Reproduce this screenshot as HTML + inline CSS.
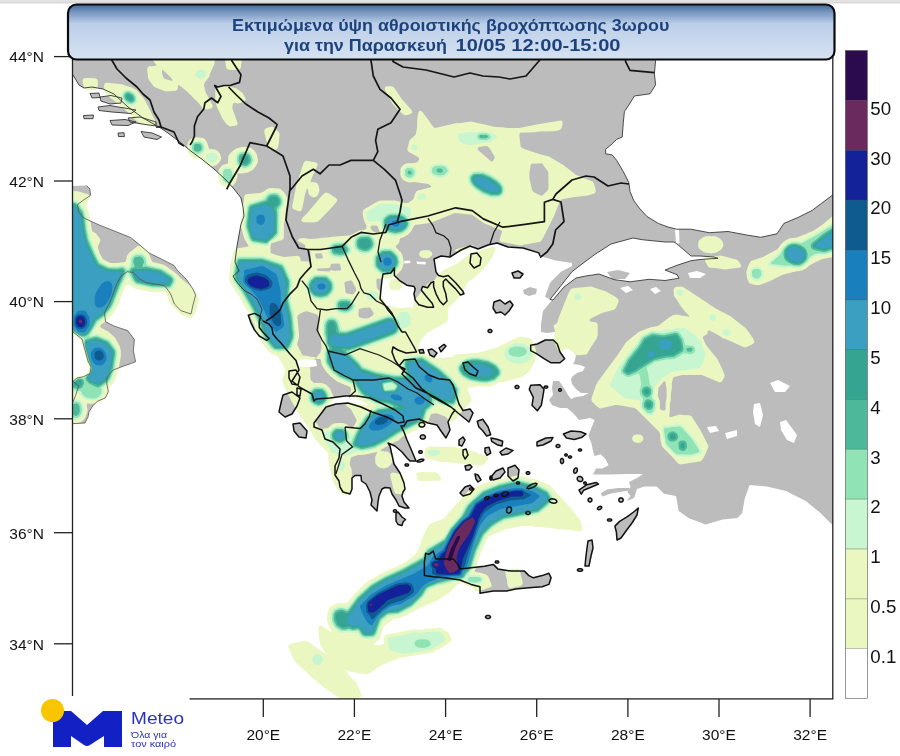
<!DOCTYPE html><html><head><meta charset="utf-8"><style>html,body{margin:0;padding:0;background:#fff;}svg{display:block}</style></head><body>
<svg width="900" height="756" viewBox="0 0 900 756" font-family="Liberation Sans, sans-serif">
<defs><linearGradient id="tg" x1="0" y1="0" x2="0" y2="1"><stop offset="0" stop-color="#3f6799"/><stop offset="0.12" stop-color="#6f8fbb"/><stop offset="0.35" stop-color="#bccfe9"/><stop offset="1" stop-color="#d6e2f1"/></linearGradient>
<clipPath id="mc"><rect x="72.5" y="57" width="760.3" height="641.9"/></clipPath></defs>
<rect width="900" height="756" fill="#fff"/>
<rect width="900" height="2.5" fill="#e2e2e2"/><rect y="2.2" width="900" height="1.2" fill="#d3d3d3"/>
<g clip-path="url(#mc)">
<path d="M72.0 50.0 L656.0 50.0 L655.6 60.4 L654.4 73.8 L655.6 84.9 L650.0 93.8 L634.4 96.0 L628.9 104.9 L624.4 111.6 L623.3 122.7 L622.2 137.1 L616.7 139.3 L612.2 143.8 L605.6 149.3 L605.6 153.8 L612.2 154.9 L616.7 160.4 L623.3 171.6 L628.9 182.7 L630.0 191.6 L634.0 201.0 L640.0 209.0 L647.0 216.5 L658.5 223.5 L668.0 227.0 L676.7 229.2 L690.7 229.2 L709.3 232.7 L728.0 231.5 L746.7 235.0 L760.7 237.3 L777.0 233.8 L784.0 223.3 L798.0 217.5 L812.0 210.5 L821.3 203.5 L834.0 194.0 L840.0 194.0 L840.0 528.0 L833.0 525.6 L820.5 513.0 L805.8 501.0 L786.0 491.0 L766.7 486.5 L749.6 485.0 L744.7 498.7 L742.2 513.0 L737.4 518.0 L722.7 519.5 L705.6 524.4 L688.5 518.0 L678.7 511.0 L676.0 496.0 L664.0 493.8 L656.7 486.5 L644.4 486.5 L637.0 489.0 L634.0 498.0 L627.0 501.0 L630.5 496.0 L627.4 492.0 L630.5 487.0 L629.0 482.0 L637.0 478.0 L643.0 474.0 L626.0 474.0 L610.0 474.6 L599.0 474.6 L593.0 474.6 L596.0 468.4 L602.4 468.4 L608.6 465.2 L605.5 459.0 L600.8 454.3 L594.6 456.0 L593.0 451.0 L591.5 443.4 L588.4 435.6 L591.5 427.8 L594.6 420.0 L590.0 418.0 L579.0 420.0 L573.0 413.0 L567.0 408.0 L560.0 408.0 L552.0 405.0 L549.0 400.0 L553.0 395.0 L552.0 388.0 L553.0 381.0 L559.0 381.0 L564.0 388.0 L568.0 395.0 L571.0 399.0 L576.0 397.0 L583.0 396.0 L589.0 393.0 L581.0 393.0 L576.0 389.0 L572.0 384.0 L571.0 379.0 L573.0 376.0 L577.0 373.0 L583.0 371.0 L585.0 367.0 L580.0 365.0 L573.0 364.0 L575.0 360.0 L576.0 355.0 L571.0 349.0 L566.0 344.0 L572.0 340.0 L577.0 333.0 L580.0 328.0 L573.0 327.0 L564.0 329.0 L555.0 332.0 L547.0 333.0 L541.0 332.0 L541.0 324.0 L543.0 311.0 L552.0 300.0 L549.0 299.0 L545.0 296.7 L550.0 282.8 L561.0 271.7 L572.0 266.0 L572.0 263.0 L555.6 260.6 L540.0 256.0 L538.9 252.9 L523.0 248.0 L508.0 247.0 L497.0 243.0 L488.0 245.0 L478.0 249.0 L470.0 246.0 L461.0 250.0 L450.0 257.0 L441.0 256.0 L434.0 259.0 L436.0 271.8 L438.5 275.5 L443.3 276.7 L448.2 275.5 L455.6 282.8 L462.9 291.3 L464.0 293.8 L460.5 295.0 L455.6 288.9 L448.2 281.6 L445.8 279.0 L443.3 281.6 L443.3 286.5 L445.8 293.8 L447.0 301.0 L443.3 304.8 L439.7 301.0 L436.0 293.8 L433.6 286.5 L433.6 281.6 L431.0 282.8 L427.5 287.7 L422.6 286.5 L421.3 290.0 L426.2 296.2 L432.3 303.6 L433.6 307.2 L427.5 307.2 L418.9 304.8 L415.2 300.0 L414.0 293.8 L415.2 288.9 L414.0 286.5 L406.7 285.2 L399.3 280.3 L394.4 275.5 L394.4 268.0 L390.8 273.0 L383.0 274.0 L382.0 280.0 L381.0 289.0 L380.0 299.0 L385.0 305.0 L388.0 310.0 L394.0 317.0 L398.0 326.0 L402.0 332.0 L405.5 332.0 L410.0 340.0 L414.0 347.0 L416.5 352.0 L406.0 353.0 L398.0 350.0 L393.0 347.0 L392.0 352.0 L395.0 360.0 L399.0 366.0 L405.0 369.0 L402.0 374.0 L409.0 381.0 L416.0 388.0 L427.0 393.0 L438.0 399.0 L448.0 405.0 L455.0 410.0 L452.0 414.0 L448.0 422.0 L450.0 430.0 L446.0 438.0 L441.0 431.0 L437.0 425.0 L428.0 423.0 L419.0 419.0 L412.0 420.0 L407.0 421.0 L404.0 426.0 L401.0 426.0 L404.0 432.0 L407.0 440.0 L411.0 449.0 L416.0 461.0 L410.0 461.0 L407.0 458.0 L402.0 452.0 L395.0 446.0 L388.0 443.0 L390.0 446.0 L392.0 455.0 L394.0 464.0 L398.0 470.0 L400.0 473.0 L404.0 483.0 L405.0 489.0 L403.0 492.0 L402.0 496.0 L404.0 502.0 L409.0 508.0 L405.0 508.0 L399.0 506.0 L396.0 500.0 L392.0 494.0 L390.0 488.0 L385.0 487.5 L382.0 489.0 L379.0 496.0 L378.0 502.0 L377.0 511.0 L371.0 505.0 L372.0 500.0 L370.0 492.0 L366.0 484.0 L361.5 481.0 L361.0 475.5 L355.0 475.5 L352.0 478.0 L352.0 489.0 L350.0 494.0 L343.0 492.0 L340.0 487.0 L339.0 481.0 L335.0 475.0 L335.0 466.0 L339.0 458.0 L340.0 449.0 L333.0 442.0 L325.0 439.0 L322.0 430.0 L314.0 427.0 L314.0 423.0 L326.0 407.0 L336.0 404.0 L348.0 403.0 L361.0 407.0 L372.0 412.0 L387.0 417.0 L398.0 423.0 L404.0 422.0 L403.0 416.0 L395.0 410.0 L383.0 404.0 L370.0 398.0 L357.0 396.0 L345.0 396.0 L330.0 398.0 L316.0 399.0 L314.0 401.0 L312.0 394.0 L301.0 388.0 L292.0 381.0 L299.0 370.0 L296.0 360.5 L290.0 354.0 L285.0 348.0 L281.0 343.0 L277.0 339.0 L273.0 334.0 L272.0 328.0 L269.0 324.0 L263.0 321.0 L260.0 316.0 L262.0 310.0 L261.0 307.0 L257.0 299.0 L251.0 294.0 L245.0 291.0 L240.0 286.0 L236.0 281.0 L233.0 276.0 L239.0 271.0 L235.0 262.0 L237.0 246.0 L239.0 235.0 L241.0 224.0 L244.0 216.0 L243.0 207.0 L241.0 198.0 L234.0 189.0 L226.0 180.0 L214.0 169.0 L203.0 160.0 L192.0 152.0 L181.0 143.0 L168.0 133.0 L159.0 127.0 L143.0 118.0 L128.0 107.0 L114.0 94.0 L103.0 89.0 L92.0 87.0 L84.0 88.0 L79.0 85.0 L73.0 75.0 L66.0 75.0 L66.0 50.0 Z M66.0 186.0 L86.7 185.6 L89.8 189.0 L90.6 195.3 L83.6 200.0 L77.4 204.6 L78.9 212.4 L83.6 217.9 L99.2 225.0 L114.8 231.2 L130.4 237.4 L138.2 243.6 L149.1 253.0 L161.6 259.2 L174.1 265.5 L177.2 270.2 L186.6 279.5 L192.8 288.9 L195.6 295.1 L193.0 305.0 L191.0 314.0 L181.1 310.7 L174.4 304.0 L171.1 295.1 L169.4 292.0 L164.7 285.8 L155.4 284.2 L146.0 282.6 L138.2 278.0 L133.5 272.5 L127.3 271.7 L121.0 276.0 L116.7 284.0 L110.0 301.8 L104.4 312.9 L105.6 321.8 L114.4 326.2 L127.8 330.7 L134.4 339.6 L133.3 350.7 L135.6 361.8 L123.3 366.2 L113.0 370.0 L106.8 377.8 L106.8 384.0 L108.4 391.8 L105.2 398.0 L97.4 401.2 L92.8 405.9 L88.9 412.0 L88.1 416.8 L85.0 423.0 L66.0 424.0 L66.0 402.0 L73.0 402.0 L75.5 395.7 L78.7 386.0 L73.0 381.4 L77.0 378.0 L83.5 376.7 L90.0 373.5 L91.0 367.0 L88.0 361.0 L85.0 350.0 L82.0 339.0 L73.0 332.0 L66.0 332.0 Z" fill="#bcbcbc"/>
<path d="M578.0 267.0 L594.0 255.0 L611.0 244.0 L633.0 238.0 L642.0 239.7 L653.0 240.8 L665.0 242.0 L674.0 242.0 L677.0 244.0 L691.0 256.0 L700.0 256.0 L714.0 257.0 L718.0 258.3 L700.0 259.5 L691.0 260.7 L677.0 265.3 L665.0 270.0 L677.0 274.7 L679.0 278.2 L665.0 280.5 L649.0 279.3 L630.0 281.8 L614.0 279.6 L599.0 274.0 L586.0 276.0 L576.0 278.0 L564.0 287.0 L553.0 300.0 L550.0 299.4 L561.0 285.6 L572.0 271.7 Z M675.0 229.0 L679.0 229.0 L679.5 243.0 L676.0 244.0 Z M296.0 360.0 L305.0 358.0 L316.0 360.0 L317.0 366.0 L306.0 368.0 L298.0 367.0 Z M688.0 273.0 L697.0 271.0 L706.0 274.0 L700.0 278.0 L690.0 278.0 Z M404.0 261.0 L410.0 260.5 L410.5 263.0 L404.5 263.5 Z M416.5 261.5 L426.0 262.0 L425.5 264.5 L417.0 264.0 Z M770.0 383.0 L778.0 380.0 L790.0 386.0 L785.0 392.0 L775.0 392.0 Z M754.0 404.0 L760.0 403.0 L763.0 415.0 L760.0 427.0 L755.0 424.0 L753.0 412.0 Z M780.0 422.0 L786.0 420.0 L797.0 435.0 L794.0 443.0 L787.0 440.0 L781.0 430.0 Z M707.0 427.0 L716.0 426.0 L719.0 431.0 L710.0 433.0 Z M725.0 433.0 L737.0 430.0 L737.0 436.0 L727.0 439.0 Z M620.0 288.0 L628.0 286.0 L633.0 290.0 L626.0 293.0 Z M650.0 289.0 L656.0 287.0 L661.0 291.0 L655.0 294.0 Z" fill="#fff"/>
<path d="M399.0 366.0 L404.0 360.0 L415.0 359.0 L419.0 366.5 L429.0 375.0 L438.5 378.7 L449.5 379.9 L453.0 385.0 L455.6 393.3 L459.0 404.0 L463.0 410.5 L470.0 409.0 L473.0 413.0 L469.0 422.0 L458.0 413.0 L451.0 407.0 L442.0 402.0 L431.0 396.0 L421.0 388.0 L413.0 378.0 L405.0 372.0 Z M248.3 315.2 L254.4 313.4 L260.6 316.5 L259.3 321.3 L259.3 327.5 L263.0 332.3 L269.1 338.5 L266.7 340.3 L259.3 336.0 L254.4 329.9 L250.8 322.6 Z M289.0 371.0 L296.0 370.0 L300.0 377.0 L298.0 385.0 L292.0 384.0 L289.0 378.0 Z M283.0 395.0 L292.0 392.0 L300.0 398.0 L297.0 406.0 L292.0 414.0 L285.0 417.0 L279.0 412.0 L281.0 403.0 Z M297.0 388.0 L301.0 389.0 L300.0 396.0 L297.0 395.0 Z M293.0 424.0 L300.0 423.0 L307.0 431.0 L306.0 438.0 L299.0 437.0 L294.0 431.0 Z M396.0 513.0 L398.0 512.0 L402.0 517.0 L405.5 519.5 L403.0 522.0 L402.0 525.5 L398.0 524.5 L396.0 521.0 Z M471.0 254.0 L477.0 253.0 L481.0 258.0 L480.0 265.0 L474.0 268.0 L470.0 263.0 Z M512.0 273.0 L518.0 271.0 L523.0 274.0 L520.0 278.0 L514.0 278.0 Z M523.0 290.0 L530.0 287.0 L537.0 289.0 L536.0 294.0 L529.0 296.0 L524.0 294.0 Z M494.0 302.0 L500.0 300.0 L505.0 304.0 L510.0 301.0 L513.0 305.0 L509.0 311.0 L505.0 315.0 L501.0 312.0 L496.0 313.0 L493.0 308.0 Z M530.7 345.3 L537.3 344.0 L545.3 340.0 L553.3 340.0 L557.3 344.0 L560.0 352.0 L564.7 358.7 L560.0 362.7 L550.7 362.7 L544.0 358.7 L536.0 353.3 L530.7 350.7 Z M530.7 385.3 L540.0 384.7 L544.0 389.3 L542.7 397.3 L541.3 405.3 L537.3 410.7 L532.0 405.3 L533.3 397.3 L529.3 389.3 Z M563.4 434.0 L571.2 431.0 L580.6 431.7 L586.0 434.0 L582.1 437.2 L574.3 439.5 L566.5 438.0 Z M537.0 442.0 L546.0 438.0 L553.0 437.5 L551.0 441.0 L543.0 445.0 L537.0 446.0 Z M463.0 363.0 L468.0 362.0 L473.0 367.0 L478.0 371.0 L476.0 376.0 L470.0 374.0 L465.0 370.0 Z M419.0 350.0 L423.0 349.5 L424.0 353.0 L420.0 353.0 Z M428.0 350.0 L432.0 349.0 L437.0 353.0 L434.0 357.0 L430.0 355.0 Z M439.0 348.0 L444.0 344.4 L446.0 346.0 L441.0 351.8 Z M477.3 421.3 L482.7 419.3 L488.0 426.7 L490.7 434.7 L486.7 436.0 L482.7 430.7 L478.7 426.7 Z M491.0 438.0 L497.0 439.3 L502.7 441.3 L502.0 446.0 L497.0 444.7 L491.7 441.3 Z M459.0 440.0 L463.0 437.0 L465.0 440.0 L462.0 446.0 L459.0 445.0 Z M463.0 450.0 L466.0 449.0 L468.0 455.0 L465.0 459.0 L463.0 455.0 Z M485.0 448.0 L489.0 447.3 L490.7 453.0 L487.0 455.3 L485.0 452.0 Z M500.0 452.0 L506.0 448.0 L513.0 450.5 L508.0 454.0 L502.0 455.0 Z M465.0 466.0 L470.0 464.7 L472.0 467.0 L469.0 470.0 L466.0 470.0 Z M475.0 474.0 L478.0 475.0 L481.0 480.0 L478.0 482.0 L476.0 479.0 Z M490.0 478.0 L496.0 471.0 L503.0 468.0 L505.0 472.0 L500.0 478.0 L493.0 480.0 Z M508.0 468.0 L515.0 465.3 L519.0 470.0 L518.0 478.0 L513.0 481.0 L508.0 476.0 Z M460.0 493.0 L465.0 487.0 L470.0 485.3 L474.0 489.0 L470.0 494.0 L463.0 496.0 Z M579.0 490.2 L586.8 484.7 L596.2 482.4 L598.5 484.0 L591.5 487.0 L583.7 490.2 L581.3 494.1 Z M600.8 493.3 L607.1 489.4 L618.0 487.9 L628.9 487.9 L630.5 490.2 L621.1 491.8 L611.8 493.3 L602.4 496.4 Z M638.3 508.1 L633.6 512.0 L627.4 516.7 L619.6 521.4 L614.9 526.1 L616.4 532.3 L617.0 540.0 L621.0 538.0 L626.0 531.0 L632.0 523.0 L637.0 515.0 Z M588.0 541.0 L592.0 540.0 L593.0 548.0 L591.0 556.0 L589.0 566.0 L585.0 566.0 L586.0 556.0 L587.0 548.0 Z M424.4 562.2 L425.6 553.3 L428.9 554.4 L433.3 551.1 L435.6 558.9 L444.4 558.9 L453.3 558.9 L457.8 564.4 L460.0 568.9 L471.1 567.8 L484.4 566.2 L493.3 564.4 L497.8 568.9 L511.1 571.1 L524.4 571.1 L528.9 575.6 L533.3 577.8 L542.2 575.6 L548.9 573.3 L551.1 577.8 L548.9 584.4 L542.2 586.7 L528.9 587.8 L515.6 588.9 L506.7 591.1 L493.3 591.1 L480.0 593.3 L480.0 586.7 L471.1 584.4 L460.0 580.0 L444.4 577.8 L433.3 576.7 L424.4 575.6 Z M100.0 97.0 L111.0 95.5 L122.0 98.0 L121.0 103.0 L110.0 104.0 L101.0 101.0 Z M98.0 107.0 L110.0 105.5 L136.0 110.0 L131.0 113.5 L112.0 112.0 L99.0 110.5 Z M83.5 115.5 L93.5 115.0 L93.0 118.7 L84.0 118.7 Z M110.0 120.5 L125.0 119.5 L136.0 122.0 L128.0 125.5 L112.0 125.0 Z M141.0 131.5 L152.0 133.0 L161.5 137.0 L157.0 139.5 L144.0 137.0 Z M90.0 93.5 L99.0 93.0 L100.0 97.5 L92.0 98.0 Z M607.0 272.0 L618.0 270.0 L630.0 273.0 L625.0 279.0 L612.0 279.0 Z M118.0 133.0 L124.0 132.7 L124.4 136.6 L118.5 136.5 Z M128.0 118.0 L140.0 117.0 L156.0 122.0 L156.0 126.0 L142.0 124.0 L130.0 122.0 Z M508.3 492.8 L508.1 494.2 L506.7 495.6 L504.7 496.3 L502.8 496.2 L501.7 495.2 L501.9 493.8 L503.3 492.4 L505.3 491.7 L507.2 491.8 Z M511.3 510.9 L510.3 512.5 L508.7 513.1 L507.2 512.6 L506.5 511.1 L506.7 509.1 L507.7 507.5 L509.3 506.9 L510.8 507.4 L511.5 508.9 Z M537.0 483.7 L536.4 485.0 L534.2 486.7 L531.1 488.1 L528.4 488.7 L527.0 488.3 L527.6 487.0 L529.8 485.3 L532.9 483.9 L535.6 483.3 Z M530.2 513.0 L529.8 513.9 L528.7 514.4 L527.3 514.4 L526.2 513.9 L525.8 513.0 L526.2 512.1 L527.3 511.6 L528.7 511.6 L529.8 512.1 Z M489.3 497.1 L489.1 498.0 L488.1 498.8 L486.7 499.3 L485.3 499.4 L484.7 498.9 L484.9 498.0 L485.9 497.2 L487.3 496.7 L488.7 496.6 Z M498.0 495.5 L497.6 496.2 L496.6 496.6 L495.4 496.6 L494.4 496.2 L494.0 495.5 L494.4 494.8 L495.4 494.4 L496.6 494.4 L497.6 494.8 Z M529.8 473.0 L529.5 473.8 L528.6 474.2 L527.4 474.2 L526.5 473.8 L526.2 473.0 L526.5 472.2 L527.4 471.8 L528.6 471.8 L529.5 472.2 Z M556.9 501.7 L556.0 502.8 L553.9 503.3 L551.4 502.8 L549.6 501.7 L549.1 500.3 L550.0 499.2 L552.1 498.7 L554.6 499.2 L556.4 500.3 Z M563.6 461.0 L563.3 462.5 L562.5 463.5 L561.5 463.5 L560.7 462.5 L560.4 461.0 L560.7 459.5 L561.5 458.5 L562.5 458.5 L563.3 459.5 Z M577.2 471.2 L576.3 472.6 L575.1 473.3 L574.1 472.9 L573.6 471.6 L573.8 470.0 L574.7 468.6 L575.9 467.9 L576.9 468.3 L577.4 469.6 Z M582.6 480.5 L581.4 481.5 L579.6 481.5 L578.0 480.6 L577.2 479.1 L577.4 477.5 L578.6 476.5 L580.4 476.5 L582.0 477.4 L582.8 478.9 Z M592.0 500.0 L591.6 501.2 L590.6 501.9 L589.4 501.9 L588.4 501.2 L588.0 500.0 L588.4 498.8 L589.4 498.1 L590.6 498.1 L591.6 498.8 Z M601.7 506.8 L601.7 507.7 L600.9 508.8 L599.6 509.5 L598.3 509.7 L597.5 509.2 L597.5 508.3 L598.3 507.2 L599.6 506.5 L600.9 506.3 Z M623.2 500.0 L622.8 501.3 L621.7 502.1 L620.3 502.1 L619.2 501.3 L618.8 500.0 L619.2 498.7 L620.3 497.9 L621.7 497.9 L622.8 498.7 Z M611.8 520.0 L611.4 520.7 L610.3 521.1 L608.9 521.1 L607.8 520.7 L607.4 520.0 L607.8 519.3 L608.9 518.9 L610.3 518.9 L611.4 519.3 Z M560.0 446.0 L559.6 446.9 L558.6 447.4 L557.4 447.4 L556.4 446.9 L556.0 446.0 L556.4 445.1 L557.4 444.6 L558.6 444.6 L559.6 445.1 Z M582.6 570.0 L582.1 570.8 L580.8 571.3 L579.2 571.3 L577.9 570.8 L577.4 570.0 L577.9 569.2 L579.2 568.7 L580.8 568.7 L582.1 569.2 Z M519.0 387.0 L518.6 387.9 L517.6 388.5 L516.4 388.5 L515.4 387.9 L515.0 387.0 L515.4 386.1 L516.4 385.5 L517.6 385.5 L518.6 386.1 Z M492.0 331.0 L491.6 331.9 L490.6 332.5 L489.4 332.5 L488.4 331.9 L488.0 331.0 L488.4 330.1 L489.4 329.5 L490.6 329.5 L491.6 330.1 Z M425.4 437.0 L424.9 438.3 L423.6 439.1 L422.0 439.1 L420.7 438.3 L420.2 437.0 L420.7 435.7 L422.0 434.9 L423.6 434.9 L424.9 435.7 Z M424.9 424.7 L424.3 426.1 L422.8 427.0 L421.0 427.0 L419.5 426.1 L418.9 424.7 L419.5 423.3 L421.0 422.4 L422.8 422.4 L424.3 423.3 Z M423.9 459.7 L423.4 460.5 L421.8 461.4 L419.8 462.0 L417.9 462.0 L417.1 461.5 L417.6 460.7 L419.2 459.8 L421.2 459.2 L423.1 459.2 Z M422.3 452.0 L422.0 452.8 L421.1 453.2 L419.9 453.2 L419.0 452.8 L418.7 452.0 L419.0 451.2 L419.9 450.8 L421.1 450.8 L422.0 451.2 Z M408.6 465.0 L408.3 465.7 L407.4 466.1 L406.2 466.1 L405.3 465.7 L405.0 465.0 L405.3 464.3 L406.2 463.9 L407.4 463.9 L408.3 464.3 Z M519.6 483.0 L519.3 483.7 L518.5 484.1 L517.5 484.1 L516.7 483.7 L516.4 483.0 L516.7 482.3 L517.5 481.9 L518.5 481.9 L519.3 482.3 Z M472.5 489.0 L472.2 489.7 L471.5 490.1 L470.5 490.1 L469.8 489.7 L469.5 489.0 L469.8 488.3 L470.5 487.9 L471.5 487.9 L472.2 488.3 Z M492.2 478.0 L492.0 479.2 L491.4 479.9 L490.6 479.9 L490.0 479.2 L489.8 478.0 L490.0 476.8 L490.6 476.1 L491.4 476.1 L492.0 476.8 Z M490.6 617.0 L490.1 617.9 L488.8 618.5 L487.2 618.5 L485.9 617.9 L485.4 617.0 L485.9 616.1 L487.2 615.5 L488.8 615.5 L490.1 616.1 Z M498.8 562.0 L498.5 562.7 L497.6 563.1 L496.4 563.1 L495.5 562.7 L495.2 562.0 L495.5 561.3 L496.4 560.9 L497.6 560.9 L498.5 561.3 Z M396.6 511.0 L396.3 511.8 L395.5 512.2 L394.5 512.2 L393.7 511.8 L393.4 511.0 L393.7 510.2 L394.5 509.8 L395.5 509.8 L396.3 510.2 Z M561.3 390.0 L561.1 390.8 L560.4 391.2 L559.6 391.2 L558.9 390.8 L558.7 390.0 L558.9 389.2 L559.6 388.8 L560.4 388.8 L561.1 389.2 Z M547.8 387.0 L547.5 387.6 L546.6 388.0 L545.4 388.0 L544.5 387.6 L544.2 387.0 L544.5 386.4 L545.4 386.0 L546.6 386.0 L547.5 386.4 Z M581.6 450.0 L581.3 450.6 L580.5 451.0 L579.5 451.0 L578.7 450.6 L578.4 450.0 L578.7 449.4 L579.5 449.0 L580.5 449.0 L581.3 449.4 Z M571.6 457.0 L571.3 457.7 L570.5 458.1 L569.5 458.1 L568.7 457.7 L568.4 457.0 L568.7 456.3 L569.5 455.9 L570.5 455.9 L571.3 456.3 Z M567.3 455.0 L567.1 455.6 L566.4 456.0 L565.6 456.0 L564.9 455.6 L564.7 455.0 L564.9 454.4 L565.6 454.0 L566.4 454.0 L567.1 454.4 Z M586.3 483.0 L586.1 483.6 L585.4 484.0 L584.6 484.0 L583.9 483.6 L583.7 483.0 L583.9 482.4 L584.6 482.0 L585.4 482.0 L586.1 482.4 Z" fill="#bcbcbc"/>
<path fill="#eaf7c1" fill-rule="evenodd" d="M154.0 49.0 156.0 48.2 160.0 48.1 212.0 48.1 215.0 49.0 215.8 51.0 215.8 54.0 214.4 64.0 209.9 74.0 209.2 77.0 205.0 82.0 203.9 85.0 205.5 92.0 212.4 105.0 212.6 107.0 212.0 108.0 211.0 108.6 205.0 109.5 203.0 108.5 199.0 103.6 187.0 91.6 179.0 84.9 178.0 85.8 177.7 89.0 176.0 90.7 166.0 91.5 155.0 87.3 153.0 85.6 148.3 79.0 147.1 70.0 147.3 68.0 149.0 66.3 155.0 66.0 156.6 65.0 153.3 61.0 153.2 51.0ZM162.0 69.2 162.0 72.6 163.1 77.0 164.0 78.5 168.3 80.0 172.0 80.7 173.0 80.4 170.4 77.0ZM226.0 56.0 227.0 55.3 230.0 55.1 239.0 55.2 241.0 56.0 241.8 58.0 241.8 61.0 240.7 68.0 240.0 69.0 239.0 69.7 236.0 69.9 229.0 69.8 227.0 69.0 226.3 68.0 225.2 61.0 225.2 58.0ZM83.0 79.0 84.0 78.4 87.0 78.1 95.0 78.2 97.0 79.0 97.7 80.0 97.9 83.0 97.8 87.0 97.0 89.0 96.0 89.7 93.0 89.9 87.0 89.8 85.0 89.0 83.6 86.0 82.4 81.0ZM105.2 83.0 107.0 82.7 122.0 84.3 126.2 86.0 132.0 87.4 137.0 90.5 143.4 98.0 146.5 103.0 155.3 121.0 155.2 123.0 154.4 124.0 151.0 126.2 149.0 126.3 139.0 122.4 136.0 120.6 123.4 108.0 105.0 93.4 104.2 91.0 104.1 86.0 104.4 84.0ZM217.0 86.3 227.0 85.6 237.0 88.7 242.6 93.0 245.4 98.0 245.6 100.0 244.0 101.7 238.0 103.5 234.0 102.8 233.0 103.8 232.2 108.0 237.6 123.0 237.0 125.0 236.0 125.6 230.0 126.5 227.0 124.6 222.6 119.0 216.6 106.0 215.2 99.0 215.3 88.0ZM385.1 87.0 387.0 86.2 391.0 86.2 393.0 86.7 394.0 87.6 401.7 99.0 411.5 110.0 412.4 112.0 411.9 113.0 409.0 114.4 405.0 115.5 402.0 113.6 392.6 104.0 385.5 91.0 384.7 89.0ZM419.2 111.0 421.0 110.8 422.5 112.0 433.0 126.5 435.0 128.0 456.0 123.3 461.0 123.1 471.0 121.5 495.4 127.0 503.0 127.2 507.0 128.1 519.0 128.1 538.0 124.3 561.0 120.6 562.0 121.1 562.8 123.0 561.7 128.0 560.0 129.7 557.0 130.7 553.0 131.3 539.0 131.4 535.0 132.3 520.0 132.7 519.4 134.0 519.4 137.0 520.8 147.0 524.1 149.0 539.0 153.9 549.0 156.6 564.0 165.6 576.0 174.9 592.0 181.3 593.1 182.0 594.4 185.0 595.7 190.0 595.6 192.0 594.0 193.7 586.0 195.7 574.4 197.0 561.0 199.5 559.1 203.0 554.5 215.0 542.5 239.0 541.1 241.0 540.0 241.7 520.0 245.5 501.0 241.7 499.8 241.0 499.6 240.0 501.9 232.0 501.9 231.0 500.8 230.0 484.0 223.2 472.0 214.8 455.0 213.1 432.0 222.3 428.0 223.3 415.0 224.9 413.9 226.0 411.4 231.0 408.0 234.6 405.0 236.6 400.0 238.6 398.9 243.0 395.7 246.0 395.8 247.0 401.4 253.0 402.7 256.0 403.9 263.0 402.0 269.0 400.6 271.0 396.0 275.6 391.0 278.6 377.0 278.7 376.4 280.0 376.4 283.0 376.9 288.0 381.3 293.0 382.8 299.0 386.4 305.0 396.0 307.5 400.0 307.9 413.0 307.3 414.6 300.0 428.5 283.0 435.0 279.4 437.4 275.0 443.0 270.6 458.1 263.0 471.0 252.7 493.0 246.7 494.8 247.0 495.5 248.0 495.4 250.0 492.5 257.0 488.0 263.5 480.6 272.0 468.0 282.6 461.0 295.5 448.2 308.0 447.8 320.0 447.1 322.0 426.9 333.0 421.0 339.9 418.9 344.0 419.0 350.7 420.0 351.9 424.0 352.6 430.0 356.0 436.5 358.0 444.0 358.1 447.0 357.3 452.0 357.1 456.0 354.3 465.0 354.1 469.0 353.2 477.0 353.1 485.0 350.9 498.0 346.9 515.0 338.6 520.0 336.6 521.0 336.7 530.0 338.3 531.1 339.0 532.5 341.0 535.4 348.0 536.3 353.0 534.7 362.0 529.6 371.0 527.0 373.4 520.0 377.7 504.0 381.7 500.0 382.0 495.0 384.8 489.0 386.4 482.0 386.6 477.0 386.0 471.0 387.4 468.0 387.5 467.5 388.0 467.6 389.0 471.7 399.0 471.3 401.0 465.6 408.0 459.0 414.6 456.6 418.0 453.0 421.3 451.0 421.8 449.0 421.2 446.0 416.9 437.0 413.3 431.0 413.9 428.0 422.0 425.0 425.4 402.1 437.0 398.0 440.7 394.5 442.0 380.6 450.0 381.5 451.0 388.0 451.7 391.3 455.0 392.4 459.0 392.4 461.0 391.3 464.0 388.0 467.3 384.0 468.5 380.0 467.7 378.0 466.6 375.7 464.0 375.2 462.0 375.2 457.0 377.3 452.0 364.0 454.7 358.0 454.9 351.9 457.0 350.8 458.0 349.6 464.0 351.8 470.0 351.7 490.0 351.0 491.1 348.0 493.4 344.0 495.4 341.0 493.5 336.6 488.0 333.6 483.0 329.3 466.0 328.2 458.0 328.6 454.0 328.1 453.0 315.6 440.0 311.0 431.9 297.6 412.0 286.6 392.0 282.3 381.0 282.6 378.0 285.3 371.0 285.0 369.0 283.0 365.0 278.0 356.7 276.0 355.2 273.0 354.4 270.0 352.6 267.4 350.0 260.6 341.0 258.5 337.0 253.0 322.3 248.0 312.1 239.0 296.2 230.4 283.0 229.3 280.0 229.0 277.0 230.3 265.0 233.6 252.0 235.0 249.0 237.0 248.2 246.5 247.0 248.4 246.0 248.2 245.0 244.4 239.0 241.0 227.0 241.1 221.0 244.2 197.0 245.0 195.0 246.0 194.3 260.0 192.9 263.0 191.9 268.0 188.5 271.0 188.0 279.0 188.5 281.0 189.5 284.0 192.2 286.5 196.0 288.0 202.0 286.0 209.0 284.7 221.0 283.9 224.0 283.8 238.0 283.4 239.0 282.0 240.1 272.0 242.9 271.0 243.6 270.4 248.0 270.7 253.0 277.0 255.3 284.0 257.0 298.0 255.8 299.9 257.0 301.0 261.3 308.0 261.6 310.0 261.3 310.6 260.0 310.3 251.0 306.0 249.9 305.1 249.0 305.2 245.0 298.1 241.0 298.0 240.0 299.0 238.7 303.0 238.1 310.0 239.0 318.0 238.6 322.0 237.7 328.0 237.6 332.0 236.7 349.0 235.5 352.9 234.0 359.0 230.5 365.0 229.7 366.5 228.0 366.5 226.0 363.8 220.0 362.5 213.0 363.4 210.0 365.0 208.7 377.0 201.7 380.0 200.6 395.0 200.5 405.0 203.1 408.0 203.0 413.0 199.6 414.0 197.8 414.8 194.0 417.0 190.8 431.0 187.3 431.2 186.0 428.4 184.0 414.0 182.1 409.0 182.5 406.0 181.6 404.0 180.5 401.5 178.0 400.3 175.0 400.5 169.0 401.5 167.0 404.0 164.5 407.0 163.3 415.0 162.9 417.4 162.0 418.9 160.0 419.0 158.0 418.0 157.0 409.0 151.9 407.9 151.0 407.2 149.0 409.7 140.0 414.3 136.0 415.8 134.0 417.1 127.0 417.3 118.0 418.4 112.0ZM485.0 145.9 478.8 147.0 477.7 148.0 477.9 150.0 491.0 161.2 492.0 161.6 493.0 161.1 494.8 158.0 494.0 155.4 489.3 148.0 487.0 146.1ZM531.0 163.7 529.5 172.0 529.4 178.0 532.0 189.8 533.5 192.0 539.3 195.0 542.0 195.8 547.0 191.3 548.5 189.0 548.3 172.0 542.0 163.3ZM304.0 311.7 299.0 314.2 297.3 316.0 299.0 334.0 298.9 338.0 297.3 343.0 297.4 345.0 301.7 354.0 303.0 355.4 307.0 355.8 310.0 356.8 314.0 356.9 316.0 357.7 320.1 353.0 321.7 348.0 320.9 341.0 319.0 334.0 319.3 319.0 318.2 316.0 317.0 314.5 307.0 311.2ZM316.0 253.5 315.1 254.0 315.1 255.0 316.0 258.2 317.0 258.7 321.0 258.6 322.9 258.0 322.0 253.8 321.0 253.3ZM331.0 263.8 330.3 267.0 329.0 268.0 318.0 268.5 316.8 269.0 316.8 270.0 319.0 271.0 329.0 271.5 331.0 270.1 334.0 270.7 340.0 270.6 341.2 270.0 340.3 265.0 339.0 263.5ZM351.0 280.3 345.0 281.7 344.4 283.0 345.5 292.0 345.8 293.0 347.0 293.6 353.0 294.6 355.8 291.0 356.0 288.5 352.0 280.8ZM364.0 307.7 359.0 309.1 358.4 314.0 359.0 317.3 364.0 318.5 367.0 318.6 369.0 318.0 373.2 315.0 373.7 313.0 370.0 307.4ZM371.0 225.7 370.5 228.0 372.4 231.0 376.0 232.5 379.7 232.0 377.5 226.0 375.0 225.4ZM305.0 359.0 297.7 361.0 297.5 362.0 298.7 366.0 300.0 366.6 309.0 367.1 310.2 369.0 310.4 378.0 311.0 380.2 314.0 383.0 322.0 383.1 326.0 384.6 330.4 389.0 333.0 395.4 335.1 398.0 332.7 400.0 328.7 406.0 321.0 411.8 316.8 417.0 315.2 420.0 315.3 421.0 317.8 425.0 320.0 428.2 322.0 429.1 328.0 428.0 332.0 424.6 334.0 423.6 337.0 423.0 343.0 423.1 347.0 424.6 352.0 428.7 353.0 427.8 356.2 422.0 356.7 420.0 350.7 409.0 345.3 405.0 348.0 403.8 355.0 403.6 367.0 405.4 368.8 405.0 361.0 400.4 358.0 398.0 351.0 396.8 350.1 395.0 351.1 389.0 350.2 387.0 337.0 381.4 330.3 376.0 326.4 372.0 323.6 368.0 321.5 364.0 320.9 360.0 320.0 359.0 318.0 359.0 316.0 358.3 314.0 359.9 312.0 360.2 309.0 359.2ZM266.0 128.3 272.0 126.5 274.0 127.5 278.6 132.0 279.7 134.0 278.7 144.0 277.7 148.0 276.0 149.7 270.0 149.7 268.3 148.0 267.3 145.0 264.3 132.0 264.4 130.0ZM192.2 138.0 194.0 137.4 198.0 137.2 203.0 138.1 205.0 139.5 206.9 142.0 209.2 149.0 215.0 149.6 218.0 151.2 220.2 154.0 221.3 158.0 220.3 161.0 218.8 163.0 216.0 165.2 213.0 166.2 211.0 166.2 205.0 163.7 203.4 162.0 202.0 158.4 196.0 158.4 192.0 156.9 190.0 155.5 188.1 153.0 187.4 151.0 187.4 144.0 188.7 141.0ZM241.6 147.0 247.0 147.0 250.0 147.5 252.0 148.5 254.7 151.0 256.5 154.0 257.9 159.0 257.8 162.0 256.6 165.0 253.0 169.7 248.0 172.5 242.0 173.5 238.0 173.2 237.5 174.0 237.5 177.0 235.7 182.0 234.5 184.0 232.0 186.2 228.0 187.6 223.0 186.1 220.5 184.0 218.5 180.0 218.3 172.0 219.3 169.0 222.0 165.5 224.0 164.5 227.0 164.1 228.0 163.0 228.3 156.0 231.0 152.4 236.0 148.6ZM305.1 161.0 307.0 160.7 316.0 162.4 317.6 164.0 317.4 166.0 312.1 177.0 310.5 182.0 315.0 182.2 317.0 182.9 318.4 185.0 319.5 190.0 318.4 194.0 317.2 196.0 314.0 197.5 311.0 196.4 309.5 195.0 308.3 193.0 308.0 189.4 307.0 188.5 305.1 194.0 302.4 208.0 301.0 210.9 299.0 211.3 293.0 209.0 292.4 208.0 292.3 206.0 296.6 184.0 303.6 163.0ZM64.4 192.0 66.0 190.6 78.0 191.3 88.0 194.3 89.6 196.0 89.4 198.0 85.9 206.0 88.4 211.0 89.5 215.0 92.0 230.9 96.0 233.5 100.2 239.0 100.3 241.0 98.0 246.0 97.8 248.0 100.0 253.9 103.0 259.2 108.1 262.0 111.0 262.9 117.0 262.9 125.0 261.9 126.0 260.4 127.0 256.0 129.0 253.1 137.0 246.5 139.0 245.6 140.0 245.8 148.3 252.0 151.8 261.0 152.8 262.0 163.0 264.6 165.0 265.6 175.0 272.4 180.6 278.0 191.0 286.4 194.4 290.0 198.4 298.0 198.8 300.0 195.3 313.0 192.0 317.5 190.0 318.5 189.0 318.3 181.0 314.4 171.4 305.0 169.6 302.0 166.9 295.0 165.3 293.0 162.0 292.1 151.0 291.9 136.0 288.7 133.0 287.4 129.0 284.4 126.0 285.8 124.0 289.3 118.5 304.0 115.4 310.0 109.0 318.7 106.0 321.4 101.7 324.0 100.2 326.0 100.2 327.0 101.0 327.8 108.0 331.6 114.6 337.0 119.7 346.0 120.9 351.0 120.9 356.0 118.7 369.0 115.5 379.0 113.4 383.0 109.0 388.0 107.3 395.0 102.0 400.6 98.0 402.5 92.0 403.7 87.0 403.6 86.7 405.0 87.6 411.0 85.1 418.0 82.0 421.6 78.0 423.4 76.0 423.7 72.0 422.7 69.0 420.8 66.2 418.0 64.6 415.0 64.2 410.0 64.6 404.0 65.4 402.0 69.1 398.0 70.0 396.0 69.8 394.0 65.5 388.0 65.0 383.0 65.4 382.0 66.8 381.0 72.0 379.7 77.0 376.5 82.0 375.9 84.0 375.0 88.2 372.0 89.3 368.0 86.2 360.0 81.0 339.8 72.0 333.2 63.0 332.6 60.0 331.7 58.1 330.0 57.1 327.0 57.0 206.0 57.6 203.0 58.6 201.0 60.5 199.0 63.5 197.0ZM324.7 193.0 326.0 192.5 328.0 193.1 335.9 198.0 337.4 200.0 336.5 202.0 329.0 210.6 318.0 221.4 314.0 222.4 304.0 222.3 302.0 221.5 301.3 220.0 302.4 218.0 307.0 213.4 322.4 195.0ZM833.8 215.0 835.0 214.7 836.0 215.1 837.7 220.0 842.4 225.0 843.7 228.0 843.9 247.0 842.4 251.0 840.5 253.0 835.0 256.7 822.5 259.0 820.0 259.9 810.1 265.0 806.0 268.4 802.0 270.5 793.3 272.0 782.0 275.1 769.0 281.4 759.0 285.3 754.0 284.7 749.0 283.0 747.3 279.0 746.2 272.0 748.6 265.0 751.0 260.9 763.0 256.9 776.1 250.0 778.0 248.6 780.4 245.0 783.0 242.3 787.0 239.4 790.0 238.3 797.0 237.4 813.0 231.0 823.0 224.3ZM703.6 237.0 707.0 236.1 715.0 236.2 717.0 236.7 720.5 239.0 722.3 241.0 723.5 245.0 722.4 248.0 720.0 250.4 716.0 252.7 711.0 253.5 704.0 252.3 699.5 249.0 698.3 247.0 698.1 245.0 698.7 241.0 700.5 239.0ZM456.9 249.0 472.0 245.0 474.5 246.0 473.0 247.5 460.0 251.6 457.0 251.7 455.1 251.0 455.2 250.0ZM420.6 251.0 423.0 250.2 429.0 250.3 431.5 252.0 432.4 254.0 432.2 255.0 430.0 257.3 427.0 258.4 422.0 257.7 420.0 256.4 419.3 255.0 419.3 253.0ZM707.0 257.2 721.0 255.6 737.0 259.7 739.4 262.0 741.3 266.0 740.9 267.0 739.0 267.8 735.0 267.9 725.0 269.5 715.0 267.9 710.0 267.7 708.6 267.0 707.1 265.0 704.7 260.0 705.1 258.0ZM390.7 280.0 393.0 279.0 398.0 279.2 400.0 279.9 402.3 284.0 402.3 286.0 401.3 288.0 400.0 289.3 396.0 290.5 391.0 289.3 389.7 288.0 389.2 286.0 389.3 283.0ZM573.0 288.2 591.0 286.6 606.0 291.6 615.0 296.6 618.0 298.9 618.6 300.0 618.4 302.0 616.4 307.0 615.1 309.0 614.0 309.7 602.0 313.1 591.8 318.0 589.3 320.0 589.8 321.0 592.0 321.9 596.0 322.3 597.7 324.0 597.8 335.0 596.4 339.0 591.0 346.9 587.0 354.1 585.0 354.8 577.0 355.2 568.2 349.0 567.0 348.7 561.0 351.3 559.1 351.0 557.5 349.0 553.3 340.0 555.1 332.0 553.6 326.0 554.1 325.0 557.1 323.0 558.6 318.0 568.6 293.0 570.9 289.0ZM675.8 287.0 681.0 286.5 684.0 287.4 714.9 308.0 731.0 316.6 746.6 329.0 753.4 339.0 754.4 342.0 754.0 343.0 752.0 344.5 746.0 347.3 744.0 347.3 728.1 340.0 723.0 338.2 718.1 335.0 709.0 330.3 708.0 331.0 707.1 334.0 703.0 336.8 702.9 338.0 705.9 345.0 717.4 359.0 720.4 365.0 724.7 375.0 724.4 377.0 722.3 381.0 721.0 382.2 719.0 382.3 702.0 374.9 682.0 374.9 674.0 377.0 673.0 378.0 671.9 383.0 671.8 389.0 670.9 393.0 670.8 400.0 669.9 404.0 669.8 412.0 669.1 416.0 669.8 417.0 671.0 417.1 680.0 414.5 683.0 415.1 689.0 415.2 691.4 416.0 700.4 430.0 707.5 444.0 708.5 447.0 703.5 458.0 701.0 461.3 680.0 464.5 677.5 463.0 675.0 459.7 662.5 447.0 661.5 445.0 660.5 440.0 660.1 434.0 659.0 431.8 636.0 408.7 634.4 408.0 618.0 404.9 615.4 405.0 600.0 408.5 597.0 406.6 592.4 402.0 591.4 400.0 591.6 398.0 595.6 386.0 597.6 382.0 619.0 353.1 625.6 343.0 628.0 340.4 639.0 331.7 650.0 327.5 658.0 325.9 669.0 317.6 673.0 315.3 676.0 314.5 689.0 316.7 689.5 316.0 685.4 312.0 680.6 306.0 677.0 299.9 673.9 296.0 673.6 290.0 674.4 288.0ZM664.0 381.2 658.4 388.0 657.8 396.0 659.8 401.0 660.0 409.0 661.3 410.0 664.0 410.6 665.0 410.5 665.6 409.0 665.7 402.0 666.6 398.0 666.6 389.0 665.4 382.0 665.0 381.4ZM634.2 435.0 637.0 434.2 641.0 434.7 642.3 436.0 643.3 438.0 643.2 440.0 642.0 441.5 640.0 442.7 636.0 442.7 634.0 441.9 632.3 440.0 632.2 438.0 632.9 436.0ZM427.7 447.0 430.0 446.5 436.0 446.4 446.0 447.1 450.0 446.5 455.0 447.3 471.0 450.6 487.0 456.3 488.4 458.0 487.5 460.0 484.5 464.0 482.0 465.5 479.0 464.9 472.0 464.8 468.0 463.9 461.0 463.8 457.0 462.9 451.0 462.8 447.0 461.9 440.0 461.7 428.0 458.4 425.0 457.0 424.3 455.0 424.6 451.0 425.4 449.0ZM390.4 474.0 392.0 472.6 397.0 473.3 403.0 475.0 404.7 481.0 404.9 486.0 405.8 490.0 405.6 492.0 405.0 493.0 403.0 493.8 399.0 493.9 396.0 493.7 395.0 493.0 393.3 489.0 390.3 476.0ZM417.0 473.0 420.0 472.1 436.0 472.3 439.0 474.5 441.3 479.0 440.9 480.0 439.0 480.8 424.0 480.9 420.0 481.4 419.0 481.0 417.6 479.0 416.4 475.0ZM514.3 476.0 518.0 475.6 535.0 479.3 544.0 482.6 550.0 485.4 570.6 508.0 579.4 519.0 580.4 521.0 582.4 528.0 582.5 530.0 582.0 530.8 581.0 531.4 574.0 530.8 570.0 529.9 555.0 528.8 551.0 527.9 545.0 527.8 541.0 526.9 535.0 526.8 531.0 525.9 522.0 525.9 506.0 529.1 489.0 536.6 487.0 538.9 481.0 552.0 474.8 571.0 475.2 572.0 480.0 572.5 487.0 575.0 488.5 577.0 491.4 584.0 491.6 586.0 491.0 587.0 484.0 589.4 476.0 591.4 475.0 590.9 473.0 587.4 467.0 585.7 463.0 582.9 458.1 584.0 455.6 586.0 451.0 591.4 436.0 601.3 421.8 607.0 406.0 615.4 399.0 618.2 394.0 619.1 385.0 625.0 383.2 628.0 380.4 637.0 379.4 639.0 374.0 644.0 374.9 645.0 378.0 645.1 380.5 645.0 383.4 644.0 384.3 643.0 383.6 639.0 383.9 637.0 385.0 635.4 387.0 634.6 413.0 629.6 423.0 629.4 427.0 628.6 436.0 628.4 440.0 627.7 442.0 628.4 445.0 630.8 448.1 632.0 451.4 638.0 451.6 640.0 451.0 641.3 441.0 648.3 437.0 649.8 432.0 652.8 399.0 658.1 382.0 665.0 368.0 674.2 361.0 673.7 353.6 672.0 350.0 671.7 346.0 669.7 345.0 670.0 350.0 676.4 355.6 682.0 357.5 685.0 361.6 695.0 361.0 697.0 360.0 697.7 349.0 700.7 345.0 701.5 344.0 701.2 324.0 687.6 312.0 677.6 295.4 662.0 292.5 657.0 288.6 648.0 288.4 646.0 290.0 644.3 305.0 640.5 309.0 642.6 324.0 652.9 326.0 653.3 320.3 645.0 319.3 640.0 318.2 628.0 319.0 626.1 321.0 625.7 330.0 631.2 332.3 632.0 328.4 625.0 327.0 620.0 327.5 612.0 329.5 608.0 331.0 606.3 337.0 603.2 347.0 602.9 354.0 594.0 368.0 581.2 383.0 572.5 400.1 565.0 407.0 561.0 412.0 557.3 418.0 551.0 422.6 537.0 429.0 524.6 431.0 523.3 442.8 519.0 444.3 518.0 454.4 506.0 461.0 499.4 463.4 496.0 469.0 490.6 483.0 483.6ZM507.0 569.4 518.0 568.6 519.7 570.0 522.7 582.0 522.6 584.0 521.0 585.7 510.0 588.4 508.3 587.0 507.3 584.0 507.0 580.4 505.3 573.0 505.4 571.0Z"/>
<path fill="#eaf7c1" fill-rule="evenodd" d="M156.3 50.0 211.0 49.9 213.0 50.1 213.9 51.0 214.0 54.0 213.2 57.0 212.7 63.0 208.4 73.0 207.3 77.0 203.5 81.0 202.4 83.0 202.1 85.0 203.4 92.0 210.0 104.3 210.5 106.0 210.0 106.8 206.0 107.3 204.0 106.9 200.0 102.0 188.0 90.0 175.0 79.0 162.0 66.1 156.0 61.7 155.0 60.0 154.9 52.0 155.1 51.0ZM228.3 57.0 238.0 56.9 239.9 58.0 240.0 61.0 239.0 66.7 238.0 67.9 230.0 68.1 228.1 67.0 226.9 59.0 227.1 58.0ZM150.3 68.0 158.0 67.9 159.8 71.0 161.4 78.0 162.7 80.0 175.2 84.0 176.0 85.1 175.9 88.0 174.7 89.0 166.0 89.4 155.0 85.0 150.0 78.1 148.9 70.0 149.1 69.0ZM85.5 80.0 95.0 80.1 96.0 81.3 95.9 87.0 94.0 88.1 87.0 87.9 86.0 87.0 84.9 84.0 84.5 81.0ZM106.6 85.0 113.0 85.0 116.0 85.8 121.2 86.0 125.0 87.5 131.0 88.8 136.0 91.8 144.0 102.4 153.0 120.4 153.0 122.5 151.0 124.0 149.0 124.2 140.0 120.8 137.0 119.0 124.0 106.1 107.0 92.7 105.9 90.0 106.0 86.0ZM218.3 88.0 227.0 87.7 235.3 90.0 240.9 94.0 243.0 97.3 243.5 99.0 243.0 100.0 238.0 101.4 233.0 100.7 232.0 101.4 231.2 103.0 230.2 108.0 235.0 120.6 235.5 123.0 235.0 123.8 230.0 124.3 228.0 123.0 224.0 117.6 220.0 109.7 218.0 104.2 217.0 99.0 216.9 90.0 217.1 89.0ZM387.9 88.0 391.0 88.0 392.7 89.0 400.1 100.0 409.0 110.1 409.6 111.0 409.5 112.0 406.0 113.3 404.2 113.0 395.0 104.0 387.2 90.0 386.9 89.0ZM420.1 114.0 421.0 113.5 422.0 114.4 431.8 128.0 434.0 129.7 437.0 129.6 457.0 125.0 471.0 123.6 495.0 128.8 503.0 129.0 507.0 129.9 518.0 130.0 518.7 131.0 517.8 133.0 517.7 138.0 518.5 141.0 518.8 147.0 520.0 149.2 535.0 154.6 549.6 159.0 562.6 167.0 575.0 176.5 591.1 183.0 592.0 183.9 592.8 186.0 593.8 191.0 592.9 192.0 585.2 194.0 574.0 195.2 565.0 197.0 561.0 197.3 559.7 198.0 557.4 202.0 553.0 213.7 541.0 237.7 539.0 240.0 520.0 243.4 516.0 243.0 503.0 240.1 501.9 239.0 503.9 231.0 503.0 229.1 485.4 222.0 472.0 213.0 455.0 211.3 444.0 215.3 432.0 220.7 421.0 222.5 416.0 222.7 414.0 223.5 412.6 225.0 410.1 230.0 407.3 233.0 404.0 235.2 399.0 237.0 398.2 238.0 397.3 242.0 392.5 246.0 392.9 247.0 399.3 253.0 401.0 256.0 402.2 263.0 400.1 269.0 395.3 274.0 393.0 275.6 388.0 277.2 377.0 276.8 375.1 278.0 374.7 280.0 375.0 288.0 379.9 294.0 380.7 299.0 385.0 306.0 387.0 307.2 396.0 309.3 400.0 309.7 414.0 308.9 415.2 307.0 416.0 301.2 420.0 296.0 430.0 284.2 436.0 280.9 439.0 276.0 444.0 272.3 459.0 264.6 472.0 254.4 492.0 249.0 493.0 249.3 493.2 250.0 490.0 257.6 486.0 263.0 479.0 271.0 466.1 282.0 459.0 295.0 446.5 307.0 446.1 319.0 445.3 321.0 426.0 331.4 424.1 333.0 419.4 339.0 417.2 343.0 417.2 351.0 418.0 353.4 423.0 354.0 431.0 358.4 436.0 359.8 444.0 359.9 448.0 359.0 453.0 358.8 457.1 356.0 465.0 355.8 470.0 354.8 478.0 354.7 486.0 352.6 499.0 348.6 514.2 341.0 521.0 338.7 528.9 340.0 530.0 340.7 534.0 349.4 534.3 355.0 532.8 362.0 528.7 369.0 526.0 371.7 520.0 375.7 503.2 380.0 500.0 380.3 494.0 383.5 489.0 384.8 482.0 385.0 476.0 384.5 470.0 385.4 467.0 385.3 466.0 385.8 465.3 387.0 465.4 389.0 469.3 398.0 469.5 400.0 464.0 407.0 452.0 419.6 450.0 419.6 447.5 416.0 446.0 415.0 437.0 411.4 431.0 412.0 429.0 413.7 426.6 421.0 424.1 424.0 401.0 435.7 397.6 439.0 375.0 450.6 363.0 453.2 358.0 453.0 350.3 456.0 348.9 458.0 347.4 463.0 350.0 470.0 350.0 488.9 348.1 491.0 344.0 493.2 343.0 492.8 338.3 487.0 335.0 481.2 331.0 465.0 330.8 461.0 330.0 458.0 331.2 455.0 331.0 454.0 327.0 449.1 317.3 439.0 312.6 431.0 299.0 410.6 289.0 392.7 284.1 380.0 287.4 371.0 287.1 369.0 284.6 364.0 279.0 355.0 277.0 353.7 273.0 352.6 271.0 351.3 268.7 349.0 261.9 340.0 254.2 321.0 249.0 310.4 240.2 295.0 231.8 282.0 230.8 279.0 230.7 275.0 232.8 261.0 236.0 251.0 237.0 250.1 247.0 248.8 252.9 247.0 252.8 246.0 249.0 243.3 246.8 240.0 242.8 228.0 242.7 222.0 246.1 197.0 247.3 196.0 252.0 195.8 255.0 195.0 260.0 194.8 263.0 194.1 267.2 191.0 270.0 189.9 277.0 189.9 280.0 191.1 284.0 195.2 286.1 202.0 284.4 208.0 283.2 215.0 283.1 220.0 282.2 224.0 282.0 237.4 281.0 238.5 271.2 242.0 270.1 243.0 268.7 249.0 268.8 253.0 270.0 254.9 284.0 258.7 293.0 258.3 297.0 257.4 298.3 258.0 298.8 261.0 300.0 262.9 302.0 263.3 310.0 263.2 311.9 262.0 313.0 255.4 314.3 259.0 316.0 260.5 323.0 260.2 324.8 259.0 324.0 254.0 323.0 252.2 322.0 251.5 315.0 251.8 313.0 252.5 311.0 249.1 306.8 248.0 306.9 244.0 301.8 241.0 302.5 240.0 310.0 240.7 318.0 240.3 323.0 239.4 329.0 239.3 333.0 238.4 349.0 237.3 353.0 235.9 360.0 232.2 366.0 231.4 368.0 229.5 369.0 229.6 371.0 232.2 374.0 233.9 379.0 234.3 382.0 233.6 382.5 233.0 382.3 232.0 380.4 229.0 379.0 224.7 376.0 223.7 371.0 223.9 369.0 224.7 368.0 224.4 367.0 223.2 365.6 220.0 364.3 214.0 364.4 212.0 365.0 210.9 378.0 203.1 381.0 202.2 395.0 202.2 405.0 204.9 408.0 204.9 414.4 201.0 415.5 199.0 416.7 194.0 418.0 192.3 431.0 189.6 434.2 188.0 433.8 186.0 430.0 182.5 414.0 180.3 409.0 180.8 404.7 179.0 402.8 177.0 402.0 175.0 402.2 169.0 405.0 165.8 407.0 165.0 416.0 164.6 419.0 163.3 420.6 161.0 421.3 158.0 421.0 157.0 419.0 155.4 410.9 151.0 409.1 149.0 410.0 144.4 411.3 141.0 416.0 137.0 417.5 135.0 418.8 128.0 419.0 119.0ZM480.0 145.0 477.0 146.0 476.1 147.0 475.8 149.0 476.5 151.0 490.0 162.6 492.0 163.6 493.0 163.4 494.5 162.0 496.7 158.0 495.7 155.0 491.5 148.0 489.0 145.4 487.0 144.3ZM542.0 161.3 530.0 162.1 528.8 164.0 528.5 169.0 527.7 173.0 527.7 179.0 530.6 191.0 533.0 193.7 541.0 197.6 543.0 197.4 549.0 191.6 550.3 189.0 550.0 172.0 548.5 169.0 543.0 161.7ZM304.0 309.8 297.0 313.5 295.5 316.0 297.4 334.0 297.2 338.0 295.6 343.0 295.6 345.0 301.5 357.0 300.6 358.0 297.0 359.1 296.1 360.0 295.7 362.0 296.7 366.0 298.0 367.9 299.0 368.2 308.0 368.8 308.6 370.0 308.7 379.0 310.0 381.6 313.0 384.6 322.0 384.8 325.1 386.0 329.1 390.0 331.8 397.0 331.8 398.0 329.0 403.1 326.0 406.3 319.5 411.0 313.6 419.0 313.4 421.0 318.5 429.0 321.0 431.5 324.0 430.3 328.0 429.9 333.0 425.9 335.0 425.0 341.0 424.6 344.0 425.0 346.0 425.9 352.0 432.0 354.0 429.6 358.2 422.0 358.7 420.0 352.7 409.0 350.3 406.0 352.0 405.4 357.0 405.4 367.0 407.3 371.0 407.3 372.5 407.0 373.6 406.0 373.1 405.0 371.5 404.0 363.0 399.7 358.0 396.1 352.1 395.0 352.8 389.0 351.0 385.4 338.0 380.1 331.7 375.0 326.9 370.0 323.4 364.0 322.2 358.0 320.0 356.0 322.0 353.0 323.6 348.0 322.5 340.0 320.8 334.0 320.8 325.0 321.4 321.0 320.0 316.0 319.0 314.0 317.0 312.6 307.0 309.4ZM331.0 261.8 329.1 263.0 328.6 266.0 328.0 266.4 316.0 267.1 314.8 269.0 315.1 271.0 317.0 272.4 325.0 272.7 330.0 273.7 334.0 272.4 341.0 272.2 342.9 271.0 343.1 270.0 342.3 266.0 340.5 262.0 339.0 261.5ZM351.0 278.4 344.0 280.1 342.8 282.0 342.7 286.0 343.8 293.0 345.5 295.0 353.0 296.9 354.4 296.0 357.2 292.0 357.9 290.0 357.7 288.0 353.0 279.2ZM370.0 305.3 359.0 307.0 357.6 308.0 356.8 311.0 356.8 317.0 357.1 318.0 359.0 319.2 364.0 320.2 368.0 320.2 374.6 316.0 375.4 315.0 375.6 313.0 371.0 305.7ZM555.8 123.0 560.0 122.9 560.6 124.0 560.0 127.0 559.0 128.0 556.0 129.1 552.0 129.6 538.0 129.7 534.0 130.6 523.0 130.5 521.1 130.0 523.0 129.0 527.8 128.0 548.0 124.8ZM266.9 130.0 272.0 128.7 273.0 129.1 277.0 133.0 278.0 134.9 277.0 143.2 276.0 147.0 275.0 147.9 271.0 147.9 270.0 147.0 269.0 144.3 266.2 131.0ZM196.0 139.0 201.0 139.2 204.0 141.0 205.5 143.0 206.5 146.0 207.0 151.1 215.0 151.3 217.5 153.0 218.7 155.0 219.5 158.0 218.9 160.0 217.0 162.5 213.0 164.4 209.0 163.8 206.0 162.3 204.7 161.0 203.9 157.0 203.0 155.6 199.0 156.8 197.0 156.8 193.0 155.5 191.0 154.0 189.2 151.0 189.2 144.0 190.1 142.0 192.0 140.1ZM240.7 149.0 249.0 149.2 253.0 151.9 254.5 154.0 256.0 159.0 256.0 161.0 255.0 164.0 252.0 168.1 247.0 170.9 242.0 171.5 236.0 171.1 235.4 173.0 235.8 177.0 234.4 181.0 233.0 183.3 229.0 185.8 227.0 185.8 224.0 184.8 221.8 183.0 220.2 180.0 219.9 173.0 220.6 170.0 223.0 166.8 229.3 165.0 229.9 163.0 230.0 157.0 231.0 155.0 237.0 150.2ZM306.0 163.0 310.2 163.0 314.5 164.0 315.5 165.0 304.4 189.0 300.8 207.0 300.0 208.7 298.0 209.1 295.0 208.0 294.2 207.0 295.0 201.0 298.0 185.7 305.0 164.6ZM312.9 184.0 315.0 184.0 316.2 185.0 317.4 190.0 316.3 194.0 315.3 195.0 314.0 195.4 311.1 194.0 310.0 192.0 310.0 186.8 311.0 185.0ZM66.6 193.0 77.0 193.0 87.0 196.0 87.5 197.0 87.3 198.0 84.4 204.0 84.0 206.0 86.6 211.0 88.0 216.0 90.5 232.0 91.0 233.1 95.0 235.1 98.3 240.0 96.0 246.0 95.9 248.0 98.2 254.0 102.0 260.6 110.0 264.5 117.0 264.6 121.0 263.8 126.0 263.9 127.5 262.0 128.6 257.0 130.0 254.8 138.0 248.1 140.0 248.0 146.7 253.0 150.8 263.0 164.0 266.9 174.0 273.7 180.0 279.9 190.0 288.0 193.0 291.4 196.9 300.0 194.0 311.3 191.0 315.8 189.0 316.2 181.0 312.0 173.0 304.0 171.2 301.0 168.6 294.0 167.0 291.9 163.0 290.5 151.0 290.2 136.0 287.0 129.0 282.4 127.0 282.9 125.0 284.3 122.8 288.0 116.6 304.0 114.1 309.0 108.3 317.0 105.1 320.0 100.0 323.3 98.0 327.0 99.0 329.0 103.6 331.0 113.0 338.0 118.0 346.4 119.2 351.0 119.2 356.0 117.0 369.0 114.0 378.0 112.0 382.1 107.5 387.0 105.7 394.0 101.0 399.2 98.0 400.8 93.0 401.8 86.0 401.5 84.3 402.0 85.7 410.0 84.4 415.0 82.9 418.0 81.0 419.9 78.0 421.4 76.0 421.7 73.0 421.0 70.0 419.1 67.1 416.0 66.4 414.0 66.2 407.0 66.6 404.0 71.5 398.0 71.9 396.0 71.5 393.0 68.1 389.0 67.2 387.0 67.1 383.0 68.0 382.0 72.0 380.7 78.0 377.1 84.0 376.2 89.0 372.3 90.3 368.0 86.8 359.0 81.7 339.0 72.0 332.2 61.7 331.0 59.4 329.0 58.8 327.0 58.7 206.0 59.4 203.0 60.7 201.0 65.3 198.0 66.0 193.8ZM325.2 195.0 327.0 194.8 332.6 198.0 334.9 200.0 334.7 201.0 328.0 209.0 316.8 220.0 314.0 220.6 306.0 220.6 304.0 220.2 304.1 219.0ZM824.0 225.8 834.0 217.4 835.0 218.0 835.4 220.0 841.0 225.9 842.2 229.0 842.2 247.0 841.1 250.0 839.1 252.0 834.0 255.0 821.0 257.5 819.0 258.3 811.0 262.4 805.0 267.1 802.0 268.6 792.0 270.4 781.0 273.4 769.7 279.0 759.0 283.3 754.6 283.0 751.0 282.0 750.0 281.1 748.9 278.0 747.9 272.0 751.0 264.3 752.9 262.0 764.0 258.6 777.0 251.6 779.0 250.3 781.0 246.9 784.0 243.6 788.0 240.8 791.0 239.8 798.0 239.0 814.0 232.4ZM705.9 238.0 714.0 237.9 716.0 238.3 720.7 242.0 721.4 245.0 721.0 246.5 719.0 248.7 715.0 251.0 711.0 251.4 705.0 250.7 701.0 247.9 700.0 246.1 699.9 244.0 701.1 241.0ZM422.9 252.0 428.1 252.0 429.8 253.0 430.2 254.0 429.8 255.0 428.0 256.1 426.0 256.4 423.0 256.0 421.4 255.0 421.1 254.0 421.4 253.0ZM713.8 258.0 721.0 257.7 735.0 261.0 737.0 262.1 738.7 265.0 737.9 266.0 725.0 267.4 710.9 266.0 709.0 264.6 706.9 260.0 707.9 259.0ZM393.1 281.0 397.9 281.0 399.0 281.7 400.4 285.0 399.7 287.0 398.3 288.0 396.0 288.4 392.0 287.6 391.0 286.1 391.0 284.0 391.8 282.0ZM581.8 289.0 591.0 288.7 604.4 293.0 613.6 298.0 616.2 300.0 616.6 301.0 614.8 306.0 613.0 308.0 601.0 311.4 589.0 317.4 587.4 319.0 586.6 321.0 587.0 322.2 591.0 323.6 595.0 324.1 595.9 325.0 596.0 335.2 595.0 337.6 589.4 346.0 586.0 352.3 584.9 353.0 578.0 353.3 572.4 350.0 568.0 346.7 566.0 346.9 561.0 349.2 560.0 349.0 555.4 340.0 556.9 332.0 555.9 327.0 558.8 324.0 560.3 319.0 571.7 291.0 573.1 290.0 579.0 289.8ZM675.9 289.0 679.0 288.1 683.0 288.8 688.0 292.6 714.0 309.6 730.0 318.3 745.0 330.1 752.1 341.0 752.0 342.0 750.7 343.0 746.0 345.2 744.0 345.2 729.0 338.4 723.0 336.3 719.0 333.3 710.0 328.4 708.0 327.6 707.0 327.8 705.3 333.0 701.0 335.6 700.2 337.0 704.5 346.0 715.7 360.0 718.0 364.3 722.6 375.0 722.3 377.0 721.0 379.5 720.0 380.3 719.0 380.2 703.0 373.2 681.0 373.3 671.8 376.0 670.2 382.0 670.0 388.8 669.0 390.9 667.0 381.0 666.0 379.6 665.0 379.1 664.0 379.2 662.0 380.6 656.8 387.0 656.2 389.0 655.7 396.0 658.1 402.0 658.0 410.3 663.0 412.3 667.0 412.2 667.4 413.0 667.4 418.0 669.0 419.3 680.0 416.6 690.0 417.4 699.0 431.4 706.2 446.0 706.0 448.7 702.0 456.8 700.0 459.6 686.0 462.0 681.0 462.3 679.0 461.8 676.9 459.0 663.8 446.0 662.0 439.0 661.7 434.0 659.8 430.0 637.0 407.1 635.0 406.2 619.0 403.1 615.0 403.2 600.0 406.3 594.1 401.0 593.4 399.0 597.0 387.6 599.0 383.4 620.6 354.0 628.0 343.0 635.0 337.0 640.6 333.0 651.0 329.1 659.0 327.5 670.0 319.3 674.0 316.9 676.0 316.6 680.0 317.0 692.0 319.4 694.1 319.0 694.3 318.0 693.7 317.0 687.0 311.0 682.3 305.0 677.9 298.0 675.8 296.0 675.1 292.0ZM636.8 436.0 639.0 436.0 640.7 437.0 641.3 439.0 640.8 440.0 638.0 441.1 634.7 440.0 634.1 438.0 635.0 436.8ZM426.8 450.0 429.0 448.3 432.0 448.1 442.0 448.9 450.0 448.6 454.0 449.0 472.4 453.0 484.0 457.2 485.5 458.0 485.7 459.0 483.7 462.0 482.0 463.3 472.0 463.0 469.0 462.2 461.0 462.0 458.0 461.2 441.0 460.0 426.8 456.0 426.1 455.0 426.2 452.0ZM380.9 453.0 387.0 453.4 389.0 455.0 390.0 456.8 390.4 460.0 390.0 462.3 389.0 464.0 386.3 466.0 384.0 466.4 380.8 466.0 379.0 465.0 377.4 463.0 377.0 456.9 379.0 454.0ZM419.5 474.0 435.0 474.0 437.0 475.1 438.7 478.0 438.0 479.0 437.0 479.1 421.0 479.3 420.0 479.0 418.9 477.0 418.5 475.0ZM392.7 475.0 396.2 475.0 401.0 476.1 401.9 477.0 404.0 490.0 403.9 491.0 403.0 491.9 398.0 492.1 396.0 491.1 392.9 479.0 392.4 476.0ZM500.0 480.8 518.0 477.2 535.0 481.0 549.0 487.0 569.0 509.0 577.7 520.0 580.1 527.0 580.0 528.9 574.0 529.0 571.0 528.2 555.0 527.0 552.0 526.2 545.0 526.0 542.0 525.2 535.0 525.0 532.0 524.2 522.0 524.1 505.0 527.4 489.0 534.5 486.0 537.5 479.3 552.0 472.5 573.0 474.0 573.7 480.0 574.2 486.0 576.9 489.3 584.0 489.5 585.0 489.0 585.8 477.0 589.2 474.0 586.0 468.0 584.4 464.0 581.2 457.0 582.7 454.0 585.0 450.0 589.7 435.0 599.7 421.0 605.3 405.0 614.1 399.0 616.5 393.0 617.6 384.0 623.5 382.0 626.5 378.0 637.8 376.0 640.0 372.0 643.0 370.5 645.0 371.0 646.3 374.0 646.9 381.0 646.8 385.0 645.4 386.1 643.0 385.4 638.0 387.0 636.4 414.0 631.2 424.0 631.0 428.0 630.2 436.0 630.1 440.0 629.5 441.3 630.0 444.0 632.5 447.0 633.7 449.6 639.0 448.7 641.0 440.0 646.8 437.0 647.8 430.0 651.7 398.0 656.4 381.0 663.4 367.0 672.3 362.0 672.0 350.0 669.7 333.8 659.0 322.4 645.0 321.0 639.0 320.8 633.0 320.0 630.0 320.0 628.9 321.0 627.9 333.0 635.6 335.0 636.0 336.4 635.0 336.9 633.0 332.1 628.0 328.9 621.0 329.2 613.0 331.9 608.0 335.0 606.0 338.0 604.9 347.0 605.2 355.0 595.3 369.0 582.5 383.0 574.3 401.6 566.0 413.8 558.0 419.6 552.0 424.2 538.0 430.3 526.0 431.7 525.0 445.0 519.9 456.0 507.0 462.9 500.0 465.0 497.0 470.0 492.3 484.0 485.2ZM508.3 571.0 517.0 570.8 518.0 571.3 519.0 573.8 520.7 582.0 520.8 583.0 520.0 583.9 513.0 586.1 511.0 586.2 510.0 585.7 509.0 583.2 507.3 573.0 507.2 572.0ZM301.7 643.0 305.0 642.7 307.6 644.0 321.0 652.9 340.0 668.0 354.7 684.0 359.3 694.0 359.5 695.0 359.0 695.8 348.0 699.1 344.0 699.0 325.0 686.0 313.0 676.0 305.0 668.1 302.0 666.0 296.0 659.6 290.5 647.0 291.3 646.0Z"/>
<path fill="#c7f6d1" fill-rule="evenodd" d="M198.2 70.0 202.0 69.4 205.2 71.0 206.2 73.0 206.2 75.0 204.0 78.0 200.0 78.6 198.0 77.9 196.0 76.4 195.4 75.0 195.6 73.0 196.8 71.0ZM124.9 90.0 127.0 89.5 131.0 90.2 134.0 91.9 136.0 94.0 137.4 97.0 137.7 100.0 137.1 102.0 135.0 104.5 133.0 105.5 129.0 105.5 126.0 104.2 123.5 102.0 121.5 98.0 121.3 95.0 122.5 92.0ZM469.9 132.0 475.0 132.3 481.0 131.5 487.0 131.5 495.9 135.0 497.3 136.0 497.1 137.0 490.0 142.3 485.0 142.5 475.0 144.5 469.0 144.9 463.0 143.4 460.0 142.1 458.4 138.0 457.8 135.0 458.2 134.0 465.0 132.4ZM193.5 141.0 196.0 140.5 200.0 140.5 202.0 141.3 203.7 143.0 205.2 147.0 205.2 149.0 203.9 152.0 202.0 153.8 199.0 155.2 197.0 155.2 193.0 153.7 191.3 152.0 190.5 150.0 190.5 145.0 191.3 143.0ZM412.7 145.0 415.0 144.4 417.0 145.6 417.6 148.0 416.4 150.0 414.0 150.4 411.8 149.0 411.6 147.0ZM239.6 151.0 243.0 150.4 248.0 150.6 251.0 152.2 253.1 155.0 254.4 159.0 254.1 162.0 251.8 166.0 248.0 168.7 245.0 169.6 240.0 168.4 237.0 166.2 235.6 164.0 235.1 159.0 235.6 155.0 236.9 153.0ZM209.0 153.0 214.0 152.8 216.1 154.0 217.0 155.2 217.6 158.0 216.0 161.2 214.8 162.0 212.0 162.7 209.0 162.0 206.1 160.0 206.0 155.0ZM435.8 164.0 443.0 163.8 447.0 165.3 449.3 169.0 449.8 171.0 447.7 175.0 445.0 176.8 440.0 177.9 432.0 175.6 429.9 172.0 430.2 168.0 432.0 165.4ZM405.7 167.0 408.0 166.2 412.0 166.3 414.0 167.1 415.7 169.0 416.7 172.0 416.7 174.0 415.7 176.0 413.9 178.0 411.0 179.3 409.0 179.3 406.0 178.2 404.0 176.3 403.2 174.0 403.4 170.0ZM223.7 168.0 226.0 167.2 231.0 167.4 232.7 169.0 233.5 171.0 234.5 176.0 233.7 179.0 232.0 182.3 229.0 184.3 227.0 184.3 224.0 183.2 221.7 180.0 221.2 178.0 221.3 172.0 222.1 170.0ZM473.4 171.0 480.0 170.6 484.0 171.1 492.0 174.5 499.0 179.2 502.8 183.0 504.9 187.0 505.3 191.0 503.8 195.0 501.0 197.5 499.0 198.2 490.0 198.2 481.0 194.5 474.0 189.8 469.5 185.0 468.1 182.0 467.6 179.0 468.1 176.0 469.2 174.0 471.0 172.2ZM268.8 192.0 275.0 191.4 279.0 192.4 282.6 196.0 284.5 202.0 283.7 205.0 280.4 211.0 280.3 231.0 279.5 235.0 275.5 239.0 270.0 241.9 268.0 245.4 266.0 246.3 253.0 243.9 249.7 242.0 247.4 238.0 244.4 229.0 244.1 222.0 246.1 207.0 247.3 204.0 250.0 202.1 262.0 198.6 266.1 194.0ZM418.9 194.0 421.0 193.5 424.0 193.8 425.8 196.0 425.5 198.0 423.0 199.8 419.0 199.3 418.0 198.3 417.7 197.0 418.0 195.2ZM65.5 200.0 73.0 199.6 77.0 200.5 79.8 203.0 85.1 211.0 86.8 217.0 88.1 228.0 90.7 239.0 96.7 254.0 99.7 260.0 101.5 262.0 110.0 265.9 117.0 266.0 122.0 265.1 128.0 266.8 129.5 265.0 130.1 258.0 132.2 255.0 134.0 253.5 136.0 252.7 142.0 252.9 144.0 254.0 146.0 256.2 148.7 264.0 163.0 267.9 173.4 275.0 175.7 278.0 176.3 280.0 175.6 283.0 172.8 288.0 171.0 289.5 168.0 290.1 163.0 289.1 151.0 288.8 136.0 285.5 134.0 284.3 131.7 282.0 128.0 276.0 127.0 276.5 121.7 287.0 115.6 303.0 113.1 308.0 106.4 317.0 98.4 323.0 95.5 329.0 92.9 333.0 93.0 333.8 97.0 333.8 99.0 334.4 110.0 339.2 116.7 348.0 118.0 353.0 115.8 368.0 111.7 380.0 110.0 382.4 103.7 388.0 103.7 393.0 101.8 396.0 98.0 399.3 93.0 400.4 87.0 399.9 84.0 398.7 81.1 396.0 79.0 393.1 73.0 391.3 70.2 389.0 68.9 387.0 68.5 385.0 68.8 383.0 78.0 377.7 84.0 377.0 89.2 373.0 90.8 368.0 87.3 359.0 84.3 348.0 82.8 339.0 72.0 331.5 65.0 330.9 62.0 330.0 60.2 327.0 60.0 207.0 60.5 204.0 61.7 202.0ZM380.0 204.0 395.0 203.8 410.0 208.0 410.7 210.0 410.7 214.0 409.7 218.0 411.1 224.0 409.7 228.0 407.0 231.4 403.0 234.1 397.0 236.1 395.0 236.2 390.0 235.2 386.0 233.5 382.6 230.0 381.5 228.0 380.0 221.3 378.0 220.7 372.0 221.6 369.0 221.7 368.0 221.2 367.0 219.0 366.0 214.0 366.4 212.0ZM815.0 233.8 834.0 222.3 836.0 222.9 839.3 226.0 840.8 229.0 840.9 246.0 840.1 249.0 838.0 251.1 825.0 255.0 821.0 255.0 815.7 256.0 811.0 258.6 808.6 262.0 805.0 265.4 800.0 267.8 795.0 268.2 790.0 267.2 785.0 267.9 771.0 266.2 768.5 265.0 768.2 264.0 769.1 262.0 780.0 252.0 782.7 247.0 787.0 242.9 792.0 241.1 801.3 241.0ZM359.7 234.0 362.0 233.5 369.0 233.4 372.0 235.0 374.9 238.0 376.7 243.0 376.4 246.0 374.2 250.0 371.0 252.9 366.0 254.7 363.0 254.5 357.0 251.9 353.4 248.0 353.1 242.0 353.6 239.0 356.1 236.0ZM332.2 242.0 335.0 241.2 342.0 241.1 345.0 241.3 347.0 242.1 349.2 244.0 351.6 248.0 351.7 251.0 350.9 253.0 347.0 256.9 341.0 258.7 334.0 257.7 332.0 256.9 329.8 255.0 328.6 253.0 328.1 249.0 329.1 245.0ZM381.4 248.0 389.0 247.6 392.0 248.4 394.0 249.6 398.0 253.6 399.8 257.0 400.9 262.0 399.1 268.0 394.0 273.3 389.0 275.6 386.0 275.8 380.0 274.4 374.2 269.0 372.8 266.0 372.7 258.0 373.5 255.0 378.1 250.0ZM238.4 256.0 242.0 255.6 263.0 255.8 283.0 262.5 284.8 264.0 286.6 267.0 291.6 278.0 292.3 281.0 292.3 286.0 290.6 299.0 293.9 313.0 295.1 328.0 296.0 333.0 295.8 338.0 293.5 345.0 291.5 349.0 289.0 351.5 286.0 352.3 280.0 352.4 275.0 351.8 273.0 351.1 269.6 348.0 262.3 338.0 255.3 320.0 250.0 309.4 241.2 294.0 233.9 283.0 232.5 280.0 232.1 275.0 234.2 261.0 236.0 257.4ZM753.9 267.0 758.0 266.8 760.0 267.3 762.7 270.0 763.5 272.0 763.7 275.0 762.7 277.0 760.0 279.7 758.0 280.7 756.0 280.7 753.0 279.7 751.1 278.0 750.2 276.0 750.1 271.0 752.0 268.1ZM314.5 274.0 327.0 274.5 330.0 276.2 333.5 280.0 335.3 285.0 334.9 290.0 332.8 294.0 328.0 298.5 321.0 300.3 315.0 299.2 312.0 297.8 307.5 293.0 305.7 288.0 305.7 285.0 306.4 282.0 310.1 277.0 313.0 274.5ZM677.7 290.0 680.0 289.8 682.0 290.4 683.0 293.0 682.0 295.2 680.0 296.0 677.5 295.0 676.9 294.0 676.8 292.0ZM368.5 292.0 372.0 291.3 376.0 292.0 378.4 295.0 378.0 298.0 376.0 299.4 373.0 300.0 368.0 298.9 366.5 297.0 366.4 295.0 367.0 293.5ZM575.0 294.0 577.0 293.3 580.0 294.0 581.0 297.0 580.2 299.0 578.0 300.0 575.0 299.0 574.3 297.0ZM338.2 298.0 341.0 297.2 347.0 297.3 350.0 297.9 352.0 299.0 354.5 302.0 355.7 305.0 355.6 307.0 354.1 310.0 351.0 312.9 346.0 314.7 340.0 313.7 337.0 312.2 334.6 309.0 334.2 304.0 335.1 301.0ZM401.6 312.0 404.0 311.4 407.0 311.7 408.6 313.0 410.0 315.2 411.0 320.0 410.6 323.0 410.0 324.5 408.0 326.6 406.0 327.8 403.0 328.0 402.0 328.7 399.1 334.0 394.0 337.6 354.0 352.0 352.8 353.0 353.1 354.0 364.3 366.0 377.0 370.3 395.0 373.6 401.0 373.5 402.4 373.0 401.8 362.0 403.0 359.3 405.0 357.5 407.0 356.8 420.0 355.2 424.0 355.9 441.0 367.2 451.0 376.1 457.5 384.0 459.9 388.0 460.4 391.0 459.2 399.0 457.5 404.0 455.0 406.5 452.0 407.3 441.0 405.2 436.0 403.2 433.8 407.0 428.2 412.0 425.5 420.0 423.1 423.0 400.0 434.7 387.0 443.1 374.0 449.5 363.0 451.8 357.0 451.4 347.0 455.6 345.0 456.0 333.0 452.6 330.9 451.0 326.0 442.8 324.4 438.0 323.7 434.0 324.0 432.6 325.0 431.9 329.0 431.3 335.0 426.5 342.0 426.1 345.0 426.9 347.0 428.6 349.1 431.0 350.8 435.0 352.0 435.5 353.0 434.5 357.9 425.0 364.2 415.0 367.0 412.5 377.2 406.0 376.5 405.0 362.0 397.4 356.2 391.0 352.0 384.3 338.9 379.0 331.0 372.5 325.9 366.0 324.1 361.0 323.7 354.0 325.2 347.0 324.2 344.0 323.9 339.0 322.4 333.0 322.5 325.0 323.6 321.0 325.8 318.0 328.0 316.6 331.0 316.1 335.0 316.6 337.2 318.0 339.5 321.0 342.0 328.9 343.0 329.4 346.0 329.5 387.0 314.8 392.0 314.8 397.0 316.8 398.0 316.7 400.0 313.5ZM710.0 315.0 712.0 314.3 715.0 315.0 716.0 318.0 715.2 320.0 713.0 321.0 710.0 320.0 709.3 318.0ZM673.6 329.0 676.0 328.3 685.0 328.1 695.0 335.4 700.0 340.0 701.0 342.0 705.4 354.0 705.3 356.0 702.4 364.0 700.0 368.1 671.3 372.0 662.0 378.3 659.2 381.0 655.3 386.0 654.5 388.0 654.5 393.0 653.7 397.0 656.1 401.0 656.6 404.0 656.4 407.0 655.0 412.0 654.0 413.9 652.0 415.0 647.0 414.9 645.0 413.5 640.7 408.0 640.0 401.0 639.0 400.0 625.0 398.3 611.3 387.0 610.1 385.0 610.2 384.0 618.6 367.0 630.3 351.0 636.0 344.5 641.0 335.9 643.0 334.5 652.0 330.6 660.0 331.1 666.0 329.4ZM723.6 330.0 726.0 329.3 729.0 329.7 730.8 332.0 730.5 334.0 728.0 335.7 724.0 334.9 722.5 333.0 722.7 331.0ZM513.8 344.0 517.0 343.3 522.0 343.6 526.0 344.7 530.0 347.6 531.8 350.0 532.6 353.0 532.5 355.0 531.0 358.4 526.0 362.3 520.0 363.7 516.0 363.6 512.0 362.4 506.5 359.0 504.4 355.0 504.4 352.0 505.1 350.0 506.5 348.0 509.0 346.1ZM470.0 357.0 478.0 356.8 488.0 358.7 496.0 362.3 498.9 365.0 501.7 369.0 502.4 373.0 501.6 376.0 500.0 378.0 495.0 381.8 487.0 383.9 481.0 383.8 471.0 382.3 463.0 378.7 460.1 376.0 457.3 372.0 456.6 369.0 457.0 366.0 458.1 364.0 463.0 359.3ZM312.4 387.0 316.0 386.1 323.0 386.5 326.0 388.6 328.5 392.0 330.0 397.0 329.2 400.0 326.0 404.4 321.0 407.8 318.0 408.2 313.0 406.5 308.5 402.0 307.7 399.0 307.8 393.0 309.2 390.0ZM73.0 400.0 77.0 399.6 80.0 400.3 82.6 404.0 83.9 409.0 83.6 412.0 81.5 417.0 80.0 418.5 77.0 419.9 74.0 419.5 71.3 418.0 69.0 415.7 68.0 413.4 68.1 405.0 70.0 402.2ZM664.0 426.0 680.0 424.2 683.0 426.0 692.9 437.0 695.8 441.0 701.3 450.0 701.8 452.0 701.0 453.5 698.0 454.8 690.0 456.9 677.0 456.2 674.0 454.5 664.8 445.0 661.8 429.0 662.4 427.0ZM429.3 450.0 438.0 450.0 439.3 451.0 439.9 453.0 439.0 454.6 437.0 455.6 434.0 455.9 430.0 455.3 428.0 454.0 427.8 453.0 428.2 451.0ZM339.6 461.0 341.0 460.4 343.0 460.7 344.6 463.0 345.0 466.0 344.7 468.0 343.6 470.0 342.0 470.9 339.5 470.0 338.4 468.0 338.4 463.0ZM498.0 482.8 518.0 478.6 534.0 482.4 547.0 488.4 550.2 491.0 552.7 495.0 553.8 498.0 553.6 501.0 552.4 503.0 549.0 506.5 539.0 514.6 505.0 521.4 493.7 528.0 486.0 535.1 481.8 543.0 478.3 551.0 472.9 568.0 469.5 574.0 471.0 575.0 479.0 575.3 482.0 576.8 483.2 578.0 483.8 580.0 483.6 581.0 482.0 582.7 479.0 584.1 475.0 584.6 468.3 583.0 465.0 579.4 442.0 585.6 438.0 586.1 430.0 589.1 428.0 590.7 424.0 597.4 413.0 607.9 399.0 615.1 389.0 616.4 383.0 620.9 381.0 625.0 377.5 635.0 376.0 637.2 374.0 638.5 370.0 639.0 363.0 638.6 360.0 636.4 357.0 632.5 341.0 632.7 339.0 631.8 334.0 627.8 331.0 622.3 330.4 619.0 330.9 613.0 333.3 609.0 338.0 606.6 343.0 606.5 347.0 607.3 348.0 606.7 356.0 596.1 370.0 583.4 384.0 575.3 402.0 567.2 421.3 556.0 426.0 547.7 442.0 538.2 444.0 536.5 449.6 527.0 459.2 516.0 465.6 504.0 481.0 489.7 483.0 488.5ZM427.0 632.0 440.0 631.5 441.0 632.1 445.0 637.5 445.6 640.0 440.0 644.3 431.0 649.5 423.0 651.2 404.0 653.7 401.0 653.3 391.0 650.6 389.4 649.0 387.2 639.0 388.0 637.9 414.0 632.8 424.0 632.7ZM314.5 655.0 316.0 654.4 319.0 654.5 321.0 655.6 322.3 657.0 322.9 659.0 322.8 661.0 321.6 663.0 320.0 664.4 318.0 665.0 316.0 664.7 314.0 663.6 312.7 662.0 312.4 658.0 313.0 656.5Z"/>
<path fill="#90e3b5" fill-rule="evenodd" d="M126.9 91.0 129.0 91.0 132.0 92.1 134.0 93.8 135.4 96.0 136.1 99.0 135.8 101.0 133.0 103.8 131.0 104.1 128.0 103.4 125.0 101.3 123.6 99.0 122.9 96.0 123.2 94.0 125.0 91.8ZM478.4 134.0 481.0 133.2 487.0 133.3 489.8 135.0 490.8 137.0 490.0 138.5 488.0 139.7 485.0 140.2 480.0 140.0 478.0 138.9 477.0 137.0 477.4 135.0ZM194.0 142.5 199.0 141.9 201.0 142.5 202.6 144.0 203.3 146.0 203.8 148.0 203.0 150.4 201.8 152.0 199.0 153.6 197.0 153.6 194.0 152.6 192.1 150.0 191.9 146.0 192.5 144.0ZM239.6 153.0 242.0 152.1 247.0 152.1 249.0 152.7 251.0 154.6 252.7 159.0 252.7 161.0 251.3 164.0 249.4 166.0 246.0 167.7 244.0 167.7 240.0 166.3 238.0 164.4 237.1 162.0 237.1 157.0 237.7 155.0ZM435.8 166.0 442.0 165.7 445.0 166.5 447.1 169.0 447.6 171.0 447.2 172.0 445.0 174.5 441.0 175.6 437.0 175.3 433.4 174.0 432.0 172.0 432.0 169.0 433.4 167.0ZM407.2 168.0 411.8 168.0 414.0 170.0 414.6 172.0 414.5 174.0 412.0 177.1 410.0 177.7 408.0 177.3 406.0 176.2 405.1 175.0 405.0 170.2ZM225.3 169.0 230.0 169.1 232.0 172.0 232.7 176.0 232.0 179.0 231.0 181.0 229.0 182.4 227.0 182.5 225.0 181.9 223.0 179.0 223.0 172.0 224.0 170.0ZM472.9 173.0 476.0 172.3 483.0 172.5 490.0 175.3 497.2 180.0 501.5 184.0 503.1 187.0 503.6 191.0 502.4 194.0 499.0 196.4 490.0 196.5 483.0 193.7 475.8 189.0 471.5 185.0 469.5 181.0 469.4 178.0 469.9 176.0ZM268.6 194.0 272.0 193.0 276.0 193.1 278.0 193.7 281.3 197.0 282.7 201.0 282.4 204.0 278.6 210.0 278.4 233.0 277.5 235.0 275.6 237.0 273.0 239.3 270.0 241.1 267.0 244.4 265.0 244.4 253.0 242.4 251.0 241.3 249.4 239.0 245.4 227.0 245.4 222.0 247.6 207.0 248.6 205.0 250.0 203.9 264.0 199.5 266.5 196.0ZM63.9 202.0 68.0 201.3 74.0 201.4 76.0 201.9 78.5 204.0 83.5 211.0 85.4 217.0 86.9 229.0 88.9 239.0 95.7 255.0 98.7 261.0 100.5 263.0 107.0 266.3 110.0 267.3 117.0 267.3 123.0 266.6 125.4 268.0 127.0 270.1 128.0 270.2 131.5 266.0 131.5 260.0 132.7 257.0 136.0 254.7 141.0 254.7 143.0 255.6 145.0 258.0 146.1 261.0 146.0 264.0 146.5 265.0 149.0 266.1 162.0 269.0 172.0 275.6 174.4 279.0 174.4 281.0 173.7 283.0 172.0 286.2 170.0 288.1 168.0 288.5 164.0 287.7 152.0 287.6 135.9 284.0 132.9 281.0 128.0 272.1 127.0 272.4 120.2 287.0 112.1 307.0 105.5 316.0 97.4 322.0 89.1 336.0 90.0 336.7 97.0 335.6 108.0 339.9 110.0 341.5 113.5 346.0 116.0 349.9 116.6 352.0 116.6 355.0 114.4 368.0 111.1 378.0 108.5 382.0 102.0 387.0 101.3 388.0 101.7 392.0 101.0 394.0 98.0 397.2 96.0 398.2 92.0 398.7 86.0 397.5 82.8 395.0 81.0 391.2 77.0 390.7 73.0 389.3 71.0 387.4 70.1 385.0 70.6 383.0 78.0 378.3 83.0 378.2 85.0 377.1 87.0 375.0 89.8 373.0 91.3 368.0 87.8 359.0 84.8 348.0 83.9 343.0 84.0 339.0 83.4 338.0 80.0 336.4 72.0 330.8 64.0 329.8 62.0 328.1 61.4 326.0 61.4 207.0 62.0 204.0ZM390.0 213.2 402.0 213.5 405.0 215.1 407.6 218.0 409.4 223.0 409.4 225.0 407.4 229.0 404.0 232.1 401.0 233.4 395.0 234.4 388.0 232.7 385.5 231.0 383.0 228.1 382.4 226.0 382.3 221.0 383.2 218.0 387.0 214.5ZM832.8 225.0 835.0 224.6 837.0 225.8 839.0 227.9 839.6 230.0 839.6 246.0 839.0 248.1 837.1 250.0 825.0 253.4 818.0 253.4 815.0 254.1 810.0 256.7 807.4 261.0 805.6 263.0 803.0 265.1 800.0 266.4 795.0 266.6 790.0 265.4 785.0 265.7 771.4 264.0 771.1 263.0 771.8 262.0 780.7 254.0 783.6 248.0 787.8 244.0 792.0 242.4 796.0 242.4 800.0 243.2 803.0 242.4 816.0 235.4ZM361.0 235.3 369.0 235.3 371.0 236.5 373.3 239.0 374.8 244.0 373.3 248.0 371.0 250.5 369.0 251.8 365.0 252.8 360.0 251.4 357.0 249.5 355.3 247.0 355.0 244.0 355.3 240.0 357.0 237.5ZM336.5 243.0 344.0 243.1 347.0 244.5 349.7 249.0 349.7 251.0 348.5 253.0 346.0 255.3 340.0 256.8 334.0 255.7 332.0 254.5 330.3 252.0 330.3 247.0 331.5 245.0 333.0 243.7ZM380.9 250.0 384.0 249.3 391.0 249.6 394.0 251.5 398.0 256.0 399.5 262.0 398.5 266.0 396.5 269.0 392.0 273.1 387.0 274.5 382.0 273.5 379.0 271.6 374.9 267.0 374.3 264.0 374.6 257.0 376.0 254.5ZM237.9 258.0 241.0 257.3 263.0 257.5 282.0 263.9 284.7 267.0 290.6 281.0 290.6 286.0 288.8 299.0 292.5 314.0 294.6 333.0 294.1 339.0 290.7 347.0 288.0 350.1 286.0 350.6 280.0 350.7 274.0 350.0 270.6 347.0 263.9 338.0 256.8 320.0 251.3 309.0 242.2 293.0 233.9 280.0 233.4 276.0 234.6 266.0 236.0 260.0ZM754.2 269.0 758.8 269.0 760.9 271.0 761.5 275.0 759.0 278.0 757.0 278.7 755.0 278.3 753.0 277.2 752.1 276.0 752.0 271.2ZM313.9 276.0 317.0 275.3 326.0 275.6 328.5 277.0 332.0 280.8 333.5 284.0 333.5 289.0 331.5 293.0 328.0 296.5 326.0 297.5 321.0 298.5 315.0 297.4 312.5 296.0 309.0 292.2 307.5 289.0 307.5 284.0 309.5 280.0ZM342.5 299.0 349.0 299.3 351.0 300.5 352.3 302.0 353.7 305.0 353.7 307.0 352.5 309.0 350.0 311.3 346.0 312.7 344.0 312.7 339.0 311.3 336.7 309.0 336.0 306.0 336.7 302.0 339.0 299.7ZM346.0 331.2 388.0 316.4 392.0 316.5 396.0 318.5 398.5 321.0 399.8 324.0 399.9 328.0 399.4 330.0 397.6 333.0 393.0 336.1 351.7 351.0 350.2 352.0 350.7 354.0 359.6 363.0 362.0 366.3 364.0 367.8 377.0 372.1 395.0 375.3 403.0 375.2 404.0 375.0 404.8 374.0 403.4 363.0 404.0 360.9 405.9 359.0 420.0 356.6 423.0 357.0 440.0 368.5 451.5 379.0 456.0 384.8 458.4 389.0 458.6 392.0 457.5 399.0 455.4 404.0 454.0 405.1 452.0 405.5 441.0 403.4 435.0 400.4 434.0 401.0 433.5 404.0 432.4 406.0 427.0 411.0 424.0 420.0 422.2 422.0 398.4 434.0 386.0 442.1 375.0 447.7 368.0 449.4 361.0 450.4 353.3 448.0 351.5 446.0 351.1 444.0 351.5 441.0 358.9 426.0 365.0 416.8 367.0 414.5 378.0 407.9 384.4 407.0 386.5 406.0 385.5 405.0 382.0 404.0 376.0 403.1 363.8 397.0 360.5 394.0 353.0 383.2 339.9 378.0 333.5 373.0 329.6 369.0 326.4 364.0 325.4 361.0 325.4 352.0 327.0 347.0 325.6 344.0 325.2 338.0 324.1 334.0 324.1 325.0 325.7 321.0 328.0 318.7 330.0 318.1 334.0 318.3 336.0 319.5 337.9 322.0 340.1 330.0 342.0 331.2ZM388.0 383.0 384.0 384.3 384.0 387.1 385.0 389.4 385.9 390.0 394.0 389.1 396.0 387.1 396.0 385.8 392.3 383.0ZM675.8 331.0 678.0 331.4 680.7 334.0 683.7 339.0 685.0 344.4 686.0 345.2 693.0 345.7 694.9 348.0 695.2 351.0 694.0 352.7 691.0 354.3 684.0 353.2 677.0 357.7 674.0 359.0 666.0 359.5 655.0 361.8 647.1 367.0 646.5 368.0 647.6 371.0 649.8 384.0 652.4 388.0 652.9 390.0 652.9 393.0 651.7 397.0 651.9 398.0 654.3 401.0 655.0 404.0 654.7 407.0 652.9 412.0 651.0 413.2 647.2 413.0 643.0 408.4 642.1 406.0 642.1 403.0 643.2 399.0 640.4 395.0 639.8 393.0 639.8 390.0 641.3 384.0 640.2 377.0 639.1 374.0 638.0 373.4 630.0 376.7 627.0 377.0 623.0 374.6 621.4 373.0 620.9 371.0 621.3 369.0 626.6 359.0 638.0 345.0 641.1 339.0 643.0 336.7 652.0 332.3 663.0 333.7ZM510.0 348.1 515.0 346.4 520.0 346.4 524.0 347.4 525.1 348.0 526.4 350.0 526.9 352.0 526.6 353.0 525.0 355.1 521.0 356.6 518.0 357.0 514.0 356.6 511.0 355.6 509.1 354.0 508.4 351.0ZM466.0 359.5 472.0 358.2 478.0 358.3 489.0 360.5 493.0 362.4 496.9 365.0 500.0 369.3 500.8 372.0 500.4 375.0 495.0 380.4 488.0 382.6 481.0 382.6 470.0 380.5 466.0 378.6 463.0 376.8 460.5 374.0 458.6 371.0 458.3 367.0 459.2 365.0 463.0 361.2ZM313.9 388.0 318.0 387.3 323.0 388.0 326.0 390.5 327.5 393.0 328.5 397.0 327.6 400.0 324.5 404.0 321.0 406.1 318.0 406.4 314.0 405.1 311.4 403.0 309.9 401.0 309.3 398.0 309.6 393.0 311.0 390.5ZM73.0 402.0 76.0 401.5 79.0 402.0 80.1 403.0 81.4 406.0 82.2 410.0 81.1 414.0 79.1 417.0 77.0 418.0 75.0 418.0 72.9 417.0 70.7 415.0 69.7 413.0 69.7 406.0 70.7 404.0ZM671.9 427.0 680.0 426.4 682.0 427.8 692.0 439.0 699.0 450.0 699.1 452.0 697.0 453.0 690.0 454.7 677.0 454.2 674.8 453.0 666.1 444.0 663.8 430.0 664.0 428.7 665.0 427.8 670.0 427.6ZM334.9 428.0 338.0 427.4 343.0 427.6 345.5 429.0 348.0 431.9 348.9 436.0 348.5 439.0 347.0 441.0 344.0 443.5 341.0 444.8 338.0 444.5 334.0 442.9 330.5 439.0 330.0 436.0 330.3 433.0 332.0 430.5ZM515.6 480.0 518.0 479.9 534.0 483.8 547.0 490.2 549.8 493.0 551.8 497.0 552.2 499.0 551.7 501.0 548.0 505.2 539.0 512.7 505.0 519.6 496.8 524.0 492.0 527.3 485.2 534.0 483.9 536.0 476.9 551.0 471.2 569.0 464.4 578.0 461.0 579.6 454.0 580.6 441.0 584.1 437.0 584.7 428.7 588.0 426.6 590.0 423.0 596.1 412.0 606.8 399.0 613.8 388.0 615.0 382.0 619.6 380.5 622.0 376.4 634.0 375.0 636.0 373.0 637.1 366.0 637.4 363.0 636.7 360.9 635.0 358.2 631.0 357.0 630.5 353.0 631.2 349.0 630.3 345.0 631.0 341.0 630.7 337.0 628.3 335.0 626.4 332.6 622.0 332.0 619.0 332.3 614.0 334.6 610.0 339.0 608.1 343.0 608.1 347.0 609.4 348.0 608.9 356.9 597.0 371.0 584.2 385.0 576.2 403.0 568.1 422.7 557.0 427.0 549.0 443.0 539.5 445.0 537.6 450.5 528.0 461.0 516.0 466.9 505.0 482.0 490.9 499.0 483.9ZM469.9 577.0 479.0 577.0 481.0 578.3 481.5 580.0 480.9 581.0 478.0 582.2 475.0 582.7 470.0 582.0 468.4 581.0 467.8 579.0 468.2 578.0ZM417.2 640.0 420.0 639.3 427.0 639.6 430.0 641.5 430.9 644.0 429.5 646.0 427.0 647.3 423.0 648.0 418.0 647.4 415.5 646.0 414.4 644.0 415.0 641.6Z"/>
<path fill="#4eb89b" fill-rule="evenodd" d="M124.8 94.0 127.0 92.4 129.0 92.4 133.0 94.7 134.3 97.0 134.7 99.0 134.2 101.0 133.3 102.0 132.0 102.6 130.0 102.6 126.0 100.3 124.7 98.0 124.3 96.0ZM480.3 135.0 486.7 135.0 488.0 136.0 488.2 137.0 486.0 138.2 481.0 138.2 479.3 137.0 479.3 136.0ZM194.9 144.0 199.0 143.7 201.0 144.9 201.8 148.0 201.1 150.0 200.2 151.0 197.0 151.7 195.0 151.1 194.0 150.1 193.7 146.0ZM241.3 154.0 247.0 153.8 249.0 154.8 249.9 156.0 250.9 159.0 250.9 161.0 250.0 163.0 247.9 165.0 246.0 165.9 244.0 165.9 241.0 164.9 239.1 163.0 238.6 161.0 238.8 157.0 239.8 155.0ZM437.0 169.0 438.0 168.5 441.0 168.5 442.1 169.0 442.9 171.0 442.3 172.0 441.0 172.8 438.0 172.6 436.5 171.0ZM408.0 171.0 409.0 170.5 411.0 170.9 411.8 173.0 411.4 174.0 410.0 174.8 408.0 174.1 407.5 173.0ZM474.1 174.0 483.0 174.0 490.0 176.9 497.0 181.5 500.5 185.0 502.0 188.0 502.2 191.0 501.4 193.0 500.0 194.4 498.0 195.2 491.0 195.2 483.0 192.1 476.0 187.5 472.5 184.0 470.8 180.0 470.8 178.0 471.6 176.0ZM270.3 195.0 274.0 194.6 277.0 195.1 279.9 198.0 280.9 201.0 280.5 204.0 276.7 209.0 277.3 214.0 277.0 233.0 272.6 238.0 267.0 242.9 265.0 243.0 253.0 241.0 251.6 240.0 250.4 238.0 246.8 227.0 246.7 223.0 247.6 218.0 247.8 213.0 249.0 207.0 251.0 205.0 265.0 200.8 266.1 200.0 268.0 196.8ZM65.2 203.0 72.0 202.7 75.0 203.0 77.5 205.0 82.5 212.0 84.2 218.0 85.5 229.0 87.7 240.0 94.2 255.0 98.3 263.0 100.0 264.3 108.0 268.3 117.0 268.7 122.0 267.9 124.0 268.7 125.2 271.0 124.6 274.0 118.7 287.0 112.6 303.0 110.5 307.0 104.0 315.6 96.3 321.0 92.6 328.0 88.6 334.0 87.0 335.4 84.0 336.5 82.0 336.5 80.0 335.7 71.0 329.6 65.0 328.9 63.7 328.0 62.8 326.0 62.7 208.0 63.0 205.0ZM389.9 215.0 400.0 214.7 404.6 217.0 406.4 219.0 408.0 223.1 408.0 225.0 406.0 228.6 402.0 231.6 396.0 233.1 390.0 232.0 386.4 230.0 384.0 227.0 383.8 221.0 384.5 219.0 386.0 217.3ZM833.6 227.0 835.0 226.7 837.0 227.7 838.2 230.0 838.3 245.0 838.0 247.0 837.0 248.3 824.0 252.1 816.0 250.4 813.0 249.4 811.2 248.0 810.7 245.0 812.0 243.0 823.0 234.1ZM361.1 237.0 368.0 236.8 370.0 237.8 371.9 240.0 372.9 243.0 372.9 245.0 371.2 248.0 369.0 249.9 366.0 250.9 364.0 250.9 359.1 249.0 357.1 247.0 356.6 243.0 357.1 240.0 359.0 238.0ZM791.0 244.0 796.0 243.8 800.4 245.0 804.0 247.1 806.5 250.0 807.7 254.0 807.0 259.0 805.0 261.6 802.0 264.1 799.0 265.2 794.0 265.0 788.0 262.6 785.9 261.0 784.5 259.0 783.4 255.0 784.0 250.0 787.4 246.0ZM334.3 245.0 342.0 244.6 345.0 245.1 347.5 248.0 347.8 251.0 345.0 253.9 341.0 255.0 334.0 253.9 332.1 252.0 331.7 249.0 332.1 247.0ZM382.1 251.0 388.0 250.7 391.0 251.0 394.0 253.4 397.0 257.0 398.1 262.0 397.0 266.0 394.6 269.0 391.0 272.0 387.0 273.1 382.0 272.0 378.4 269.0 376.0 266.0 375.7 262.0 376.0 257.0 379.4 253.0ZM135.6 257.0 140.0 256.5 141.4 257.0 143.0 258.5 144.1 262.0 142.4 266.0 143.0 266.9 146.0 266.8 161.0 270.0 171.0 276.5 172.4 278.0 173.1 280.0 172.6 282.0 170.4 286.0 168.0 287.1 164.0 286.4 152.0 286.2 137.1 283.0 135.5 282.0 133.4 279.0 129.9 271.0 131.0 268.6 134.5 267.0 134.8 266.0 133.5 263.0 133.5 260.0 134.0 258.6ZM239.2 259.0 262.0 258.8 281.0 265.0 282.4 266.0 283.6 268.0 289.2 281.0 289.2 286.0 287.4 299.0 291.2 315.0 292.2 322.0 292.5 329.0 293.3 333.0 293.2 337.0 292.6 339.0 289.1 347.0 287.0 349.0 277.0 349.3 274.0 348.4 267.5 341.0 264.9 337.0 258.3 320.0 252.4 308.0 243.8 293.0 235.0 279.0 234.8 275.0 236.8 262.0 237.7 260.0ZM315.1 277.0 322.0 276.7 326.0 277.0 328.0 278.4 331.0 281.8 332.2 285.0 332.0 289.0 330.5 292.0 327.0 295.4 321.0 297.1 316.0 296.2 313.4 295.0 310.0 291.2 308.8 288.0 309.0 284.0 311.0 280.4ZM340.3 301.0 346.0 300.6 349.0 301.1 351.5 304.0 351.8 307.0 349.0 309.9 346.0 310.9 344.0 311.0 340.0 309.9 338.1 308.0 337.7 305.0 338.1 303.0ZM386.9 318.0 390.0 317.7 393.0 318.4 395.6 320.0 397.1 322.0 398.3 325.0 398.3 328.0 397.2 331.0 395.6 333.0 393.0 334.6 384.0 338.0 356.0 348.0 346.0 351.0 346.4 352.0 358.6 364.0 362.0 368.4 376.0 373.3 394.0 376.6 404.0 376.6 406.3 376.0 406.5 374.0 404.7 364.0 405.0 362.0 406.0 360.7 408.0 359.8 422.0 358.1 439.0 369.5 450.0 379.4 457.0 389.0 457.2 392.0 456.2 398.0 454.3 403.0 452.0 404.1 441.0 402.0 434.0 397.7 433.0 397.4 432.0 397.8 432.0 404.0 430.5 406.0 425.9 410.0 423.0 419.0 421.2 421.0 397.3 433.0 385.0 441.1 374.0 446.6 363.0 449.0 361.0 449.0 354.0 446.4 353.0 445.0 352.8 443.0 356.4 434.0 359.9 427.0 366.5 417.0 371.0 413.5 378.0 409.4 392.0 407.4 393.2 407.0 393.4 406.0 392.0 404.9 388.0 403.5 377.0 402.0 364.8 396.0 361.5 393.0 354.0 382.0 340.0 376.4 331.0 368.6 327.9 364.0 326.8 361.0 326.8 352.0 329.3 348.0 326.8 343.0 326.6 337.0 325.6 333.0 325.8 325.0 327.0 322.0 329.0 320.1 331.0 319.7 333.7 320.0 335.2 321.0 337.0 324.0 338.8 332.0 341.0 332.6 347.0 332.5ZM392.0 381.7 383.6 383.0 382.6 384.0 383.3 388.0 384.0 390.0 385.0 390.9 394.0 390.4 396.0 388.9 397.3 386.0 396.0 384.3ZM675.3 333.0 677.0 333.2 678.2 334.0 682.0 340.0 683.6 349.0 682.9 351.0 681.9 352.0 673.9 357.0 666.0 357.5 654.0 360.2 636.0 372.0 629.0 374.9 627.0 374.9 623.2 372.0 622.9 371.0 623.5 369.0 628.0 360.0 639.0 346.5 644.0 338.1 652.5 334.0 663.0 335.6ZM95.1 337.0 97.0 337.0 108.0 341.6 114.5 350.0 115.3 353.0 113.0 368.0 109.6 378.0 107.0 381.5 100.0 386.6 98.0 387.5 95.0 386.6 89.0 383.4 86.6 381.0 85.6 379.0 86.7 376.0 90.5 373.0 91.8 368.0 89.0 361.0 85.1 347.0 84.5 343.0 84.7 341.0 86.0 339.6ZM686.9 348.0 691.0 347.5 692.1 348.0 692.9 350.0 691.0 351.8 688.0 351.6 686.9 351.0 686.4 350.0ZM466.0 360.9 472.0 359.4 478.0 359.6 488.0 361.6 493.0 363.9 496.1 366.0 499.0 370.0 499.6 372.0 499.0 374.9 494.0 379.6 487.0 381.6 482.0 381.6 471.0 379.4 466.0 377.1 462.9 375.0 460.0 371.0 459.4 369.0 459.6 367.0 460.9 365.0 464.0 362.0ZM77.9 379.0 80.0 378.6 82.2 379.0 83.5 380.0 84.2 383.0 82.5 387.0 81.0 388.2 78.0 389.1 75.0 388.3 73.0 387.2 72.1 386.0 71.8 384.0 72.3 383.0ZM643.8 387.0 646.0 386.4 648.0 386.5 650.9 389.0 651.3 391.0 651.0 393.7 650.0 395.5 648.0 397.3 647.0 397.5 645.0 396.7 642.1 394.0 641.8 390.0ZM315.1 389.0 322.0 389.0 325.0 391.4 326.7 395.0 327.0 398.0 325.5 401.0 323.0 403.5 320.0 405.0 318.0 405.0 315.0 404.0 312.4 402.0 311.0 400.0 310.7 397.0 311.0 393.0 313.0 390.4ZM645.8 400.0 647.0 399.3 650.0 399.5 652.9 402.0 653.3 404.0 653.0 406.7 652.0 408.5 650.0 410.1 647.0 409.7 644.1 407.0 643.8 403.0ZM73.6 404.0 77.0 403.5 78.1 404.0 79.3 406.0 79.9 411.0 78.9 414.0 77.0 415.8 76.0 416.0 74.0 415.3 71.8 413.0 71.5 407.0 72.0 405.6ZM336.1 429.0 343.0 429.0 345.0 430.4 347.0 433.0 347.0 438.0 345.0 440.7 342.0 442.6 340.0 443.1 336.0 442.0 333.3 440.0 332.0 438.0 331.7 435.0 332.0 433.0 334.0 430.4ZM668.5 433.0 671.0 431.5 674.0 431.5 677.0 433.6 678.3 437.0 677.6 439.0 676.0 440.6 674.0 441.5 672.0 441.6 670.0 441.2 668.5 440.0 667.5 438.0 667.5 435.0ZM679.8 441.0 682.0 440.4 684.0 440.5 685.2 441.0 686.6 443.0 687.2 447.0 685.5 450.0 684.0 451.1 681.0 450.8 678.9 449.0 678.4 444.0 678.8 442.0ZM499.0 485.2 518.0 481.2 535.8 486.0 547.2 492.0 550.4 497.0 550.7 500.0 547.0 504.3 538.0 511.7 504.0 518.5 495.9 523.0 491.0 526.4 482.9 535.0 475.5 551.0 470.4 568.0 469.0 570.4 466.1 573.0 464.5 576.0 463.0 577.7 461.0 578.6 454.0 579.3 438.0 583.1 428.0 587.0 425.7 589.0 422.0 595.2 412.0 605.2 398.0 612.8 389.0 613.3 387.0 614.0 381.0 618.7 379.5 621.0 375.4 633.0 373.0 635.7 369.0 636.1 364.0 635.7 362.0 634.2 359.4 630.0 358.0 629.0 353.0 629.9 349.0 628.5 345.0 629.4 342.0 629.2 336.8 626.0 334.5 622.0 333.6 619.0 334.0 614.1 336.0 611.1 338.1 610.0 341.0 609.6 343.7 610.0 346.0 611.3 348.0 611.1 357.7 598.0 371.0 585.8 384.2 578.0 403.0 569.6 423.6 558.0 428.0 549.9 445.0 539.4 450.9 529.0 462.4 516.0 467.8 506.0 473.0 500.6 477.0 497.6 483.0 491.8Z"/>
<path fill="#35a592" fill-rule="evenodd" d="M127.5 94.0 129.0 94.0 132.0 96.0 133.1 99.0 132.0 100.8 130.0 101.0 127.0 99.0 125.9 96.0 126.2 95.0ZM241.7 156.0 246.0 155.6 248.0 156.7 249.0 160.0 247.4 163.0 245.0 164.0 242.0 163.2 241.0 162.3 240.6 158.0ZM473.5 176.0 476.0 175.1 482.0 175.2 490.0 178.5 496.0 182.6 499.0 185.4 500.8 189.0 500.4 192.0 498.0 193.8 492.0 193.9 483.0 190.5 476.4 186.0 473.6 183.0 472.1 179.0 472.6 177.0ZM270.7 197.0 273.0 196.5 276.0 196.8 278.0 198.6 278.9 201.0 278.8 203.0 278.0 204.4 274.0 208.0 275.9 213.0 275.8 232.0 274.0 234.7 267.0 241.3 265.0 241.5 254.0 239.8 252.7 239.0 251.5 237.0 248.1 226.0 249.1 214.0 250.2 208.0 252.0 206.2 267.2 202.0 268.2 201.0 269.0 198.6ZM64.8 205.0 66.0 204.2 68.0 204.0 73.0 204.1 75.0 204.6 81.4 213.0 82.8 218.0 84.1 229.0 86.2 240.0 92.6 255.0 97.2 264.0 99.0 265.4 108.0 269.8 118.0 270.0 122.0 269.5 123.0 269.9 123.7 271.0 123.5 273.0 109.5 306.0 103.0 314.6 95.2 320.0 91.1 328.0 87.8 333.0 86.0 334.5 83.0 335.4 81.0 335.3 78.0 333.8 71.0 328.3 65.0 327.2 64.1 325.0 64.0 209.0ZM388.9 217.0 391.0 216.2 394.0 216.0 399.0 216.1 402.0 217.0 404.6 219.0 405.9 221.0 406.6 224.0 406.0 226.0 403.6 229.0 400.0 230.8 396.0 231.6 389.0 230.0 385.6 227.0 385.0 224.0 385.6 220.0ZM833.4 229.0 835.0 228.5 836.0 228.8 836.9 231.0 836.9 245.0 836.0 247.2 824.0 250.6 816.0 248.6 812.8 247.0 812.5 246.0 813.4 244.0 824.0 235.5ZM361.3 239.0 367.0 238.6 369.5 240.0 371.0 244.0 370.3 246.0 369.0 247.5 365.0 249.0 362.0 248.3 359.6 247.0 358.6 245.0 358.6 242.0 359.6 240.0ZM789.9 246.0 793.0 245.1 796.0 245.2 800.0 246.6 804.5 250.0 805.8 253.0 805.9 257.0 805.4 259.0 802.6 262.0 799.0 263.8 795.0 263.8 791.0 262.4 786.5 259.0 785.2 256.0 785.2 251.0 786.4 249.0ZM334.7 247.0 337.0 246.5 344.0 246.8 345.3 248.0 345.9 250.0 345.0 251.5 343.0 252.5 340.0 253.0 336.0 252.4 334.0 251.3 333.6 250.0 333.8 248.0ZM381.5 253.0 384.0 252.1 390.0 252.2 392.0 253.4 395.4 257.0 396.6 262.0 396.0 264.6 394.6 267.0 391.0 270.4 387.0 271.6 383.0 270.8 381.0 269.6 377.6 266.0 377.1 264.0 377.2 258.0 378.4 256.0ZM238.8 261.0 240.0 260.2 242.0 260.0 262.0 260.2 280.0 266.2 282.0 268.0 287.8 281.0 287.9 285.0 287.1 289.0 286.1 300.0 289.8 315.0 290.9 323.0 291.1 329.0 291.9 333.0 291.5 338.0 289.0 344.1 287.0 347.3 284.0 348.0 277.0 347.9 275.0 347.4 269.0 340.6 266.0 336.1 259.4 319.0 253.4 307.0 244.9 292.0 236.5 279.0 236.1 276.0 236.9 272.0 237.1 268.0ZM134.6 269.0 143.0 268.9 146.0 268.4 160.0 271.2 170.5 278.0 171.3 279.0 171.4 281.0 170.0 284.0 168.0 285.6 164.0 285.0 153.0 284.9 138.0 281.8 135.6 280.0 131.6 272.0 132.0 269.8ZM314.5 279.0 317.0 278.1 324.0 278.1 326.0 278.6 328.6 281.0 330.5 284.0 330.9 287.0 330.0 290.1 327.0 293.6 325.0 294.8 321.0 295.6 315.0 294.4 312.4 292.0 310.5 289.0 310.2 285.0 311.6 282.0ZM340.7 303.0 343.0 302.5 348.0 302.8 349.3 304.0 349.9 306.0 348.4 308.0 346.0 308.9 341.0 308.2 339.6 306.0 339.8 304.0ZM347.0 333.9 388.0 319.2 391.0 319.2 394.0 320.6 395.4 322.0 396.8 325.0 396.8 328.0 395.4 331.0 394.0 332.4 383.0 336.9 350.0 348.5 348.0 348.9 344.0 348.2 342.0 348.5 341.2 349.0 341.7 350.0 348.0 355.4 357.0 364.3 361.0 369.6 376.0 374.8 393.0 378.0 406.0 378.0 409.0 377.5 406.2 365.0 406.8 362.0 409.0 361.1 420.0 359.5 422.0 359.7 438.0 370.6 449.0 380.4 453.4 386.0 455.8 390.0 454.8 398.0 453.2 402.0 451.0 402.5 441.0 400.4 431.0 394.4 430.1 395.0 430.0 396.0 430.8 403.0 429.5 405.0 424.7 409.0 422.0 417.6 421.0 419.3 396.2 432.0 384.1 440.0 374.0 445.1 367.0 446.8 361.0 447.5 355.0 445.2 354.3 443.0 360.9 428.0 368.0 417.5 379.0 410.5 393.0 408.9 398.9 407.0 398.0 406.0 389.0 402.2 377.0 400.5 365.9 395.0 362.6 392.0 355.0 380.7 341.0 375.4 332.4 368.0 329.0 363.0 328.1 360.0 328.2 352.0 329.0 350.8 332.3 349.0 332.2 348.0 329.0 344.6 328.2 343.0 327.5 326.0 328.1 324.0 329.7 322.0 331.0 321.6 333.0 321.8 334.3 323.0 335.3 325.0 336.1 332.0 336.8 333.0 339.0 333.9ZM391.0 380.8 383.0 382.3 381.8 383.0 381.6 384.0 382.4 388.0 384.0 391.3 386.0 391.8 394.0 391.5 396.0 390.1 397.6 388.0 398.2 386.0 397.0 384.1 393.0 381.1ZM653.0 336.0 662.0 337.4 676.0 335.1 677.2 336.0 680.3 341.0 681.5 347.0 681.1 350.0 673.0 355.3 665.0 355.7 655.0 358.1 649.0 361.0 633.7 371.0 628.0 372.9 626.2 372.0 625.3 371.0 625.3 370.0 629.7 361.0 640.3 348.0 644.9 340.0ZM93.4 339.0 97.0 338.6 107.0 342.6 111.4 348.0 113.4 351.0 113.9 353.0 111.8 367.0 108.0 378.0 106.0 380.4 100.0 384.7 98.0 385.6 89.9 382.0 88.7 381.0 87.0 378.0 87.6 376.0 91.1 373.0 92.4 368.0 88.8 359.0 85.9 348.0 85.1 343.0 86.0 341.3ZM471.5 361.0 477.0 360.9 487.5 363.0 489.9 364.0 493.7 366.0 495.8 368.0 498.0 371.7 497.7 374.0 493.7 378.0 487.0 380.1 482.0 380.1 471.5 378.0 469.1 377.0 464.0 374.0 461.3 370.0 460.9 368.0 462.0 366.0 465.3 363.0ZM74.9 382.0 79.0 379.6 81.0 380.0 82.0 383.0 81.0 385.4 78.0 387.0 74.7 386.0 73.7 384.0ZM644.7 389.0 647.0 388.6 649.2 390.0 649.2 393.0 648.0 394.4 646.0 394.8 644.0 393.3 643.6 391.0ZM314.5 391.0 317.0 390.1 321.0 390.2 322.5 391.0 324.4 393.0 325.5 396.0 325.4 398.0 324.0 400.6 322.0 402.4 320.0 403.4 318.0 403.5 315.0 402.4 312.6 400.0 312.1 398.0 312.2 394.0ZM646.7 402.0 649.0 401.6 651.2 403.0 651.2 406.0 650.0 407.4 648.0 407.8 646.0 406.3 645.6 404.0ZM335.5 431.0 337.0 430.2 341.0 430.1 344.0 431.4 345.4 433.0 345.9 435.0 345.8 437.0 344.6 439.0 342.1 441.0 340.0 441.6 337.0 440.9 335.0 439.6 333.6 438.0 333.1 435.0 333.6 433.0ZM670.7 434.0 673.0 433.6 675.0 434.6 675.9 437.0 675.0 438.5 674.0 439.2 672.0 439.4 670.0 438.3 669.6 436.0ZM681.1 443.0 683.0 442.6 684.0 443.0 684.5 444.0 684.8 447.0 683.0 448.9 681.0 448.1 680.6 447.0 680.6 444.0ZM514.6 483.0 518.0 482.7 535.0 487.1 546.3 493.0 549.0 497.3 549.2 500.0 546.0 503.5 538.0 510.2 504.0 517.1 495.0 522.0 490.6 525.0 483.5 532.0 481.4 535.0 474.5 550.0 469.1 568.0 468.0 569.7 465.2 572.0 462.3 577.0 460.0 577.9 453.0 578.3 438.0 581.8 427.0 586.2 424.2 589.0 420.5 595.0 411.0 604.3 398.0 611.3 387.0 612.5 380.0 617.7 378.1 621.0 374.0 632.7 372.0 634.6 366.0 634.8 364.0 634.2 359.0 627.6 357.0 627.5 353.0 628.4 349.0 626.6 343.0 627.4 338.0 624.4 335.5 619.0 335.7 615.0 337.0 612.9 339.0 611.7 341.0 611.5 343.0 611.8 346.0 613.5 348.0 613.1 350.0 611.1 358.5 599.0 372.0 586.7 385.2 579.0 404.0 570.6 424.0 559.5 426.0 557.1 429.0 550.9 445.0 541.2 451.2 530.0 458.0 521.9 463.9 516.0 469.0 506.6 474.0 501.2 483.7 493.0 499.0 486.7Z"/>
<path fill="#3a9fc0" fill-rule="evenodd" d="M475.1 177.0 482.0 176.9 489.0 179.9 497.3 186.0 499.0 189.0 498.9 191.0 497.0 192.2 492.0 192.3 484.0 189.1 477.9 185.0 475.0 182.1 473.8 179.0ZM253.0 207.8 266.0 204.3 267.5 205.0 273.3 211.0 274.2 213.0 274.0 232.0 268.0 238.3 266.0 239.6 261.0 239.3 254.0 237.7 252.9 236.0 249.7 226.0 250.7 214.0 252.0 208.5ZM66.6 206.0 71.0 205.7 74.0 206.0 80.0 214.0 81.3 219.0 83.4 236.0 84.7 241.0 91.6 257.0 96.0 265.3 99.0 267.4 108.0 271.6 121.5 272.0 121.1 274.0 115.7 286.0 112.1 297.0 108.1 305.0 102.0 313.2 93.7 319.0 90.0 327.4 87.0 332.1 85.0 333.5 82.0 334.3 78.0 333.0 72.0 327.0 67.0 326.2 65.8 325.0 65.7 209.0 65.8 207.0ZM390.8 218.0 399.0 217.7 402.0 218.9 404.3 222.0 404.7 224.0 404.1 226.0 401.0 228.6 397.0 229.7 392.0 229.3 389.0 228.1 387.0 226.0 386.8 222.0 388.0 219.8ZM833.7 231.0 835.0 231.1 835.3 233.0 835.3 244.0 834.5 246.0 828.0 248.1 824.0 248.7 817.0 247.1 815.0 246.0 815.2 245.0 819.9 241.0ZM791.8 247.0 795.0 246.7 799.0 248.0 803.1 251.0 804.1 253.0 804.2 257.0 803.3 259.0 801.0 261.1 798.0 262.3 795.0 262.1 792.0 261.0 787.9 258.0 786.7 255.0 787.0 251.0 789.0 248.7ZM383.0 254.0 390.0 254.0 394.0 258.0 394.8 262.0 394.0 265.0 390.0 269.0 387.0 269.7 383.0 269.0 379.0 265.0 379.0 258.0ZM240.6 262.0 262.0 261.9 279.0 267.7 281.0 269.7 286.3 282.0 284.4 300.0 288.3 316.0 288.4 320.0 289.3 323.0 289.4 330.0 290.3 334.0 290.0 337.2 287.0 344.3 285.6 346.0 276.0 346.0 274.0 344.1 267.9 336.0 261.3 319.0 255.4 307.0 246.3 291.0 238.0 278.2 237.8 276.0 238.6 273.0 238.7 268.0 239.8 263.0ZM133.9 271.0 146.0 270.3 160.0 273.0 169.0 279.0 169.5 281.0 168.4 283.0 167.0 283.5 154.0 283.3 138.1 280.0 137.0 279.0 134.0 273.3 133.6 272.0ZM316.0 280.0 324.0 279.8 326.0 280.7 328.0 282.9 329.1 285.0 329.1 288.0 328.0 290.1 326.0 292.3 325.0 293.0 321.0 293.8 317.0 293.2 315.0 292.3 313.0 290.1 311.9 288.0 311.9 285.0 313.0 282.9ZM387.8 321.0 390.0 320.8 393.0 321.9 395.1 325.0 395.1 328.0 394.1 330.0 391.0 332.1 349.0 347.1 344.0 346.4 334.0 346.3 332.0 345.3 330.0 343.0 329.9 338.0 331.0 336.3 333.0 334.7 335.0 334.5 339.0 335.6 348.0 335.6ZM662.2 340.0 667.0 339.4 670.5 341.0 671.3 342.0 672.1 345.0 671.0 347.5 668.9 349.0 666.0 349.7 663.0 349.4 660.5 348.0 659.4 346.0 659.4 343.0 660.5 341.0ZM92.7 341.0 97.0 340.5 106.0 344.0 110.0 348.9 112.2 353.0 110.1 367.0 107.0 376.2 105.1 379.0 98.0 383.6 95.7 383.0 90.2 380.0 88.6 377.0 89.0 376.0 91.5 374.0 93.2 368.0 89.3 358.0 86.6 347.0 86.3 344.0 87.0 342.7ZM330.5 352.0 338.0 350.3 341.1 352.0 347.0 356.7 355.3 365.0 360.0 371.2 375.0 376.3 389.5 379.0 388.8 380.0 382.0 381.4 380.5 383.0 382.4 391.0 384.0 392.6 385.0 392.8 395.0 392.4 398.3 389.0 399.2 387.0 399.0 385.0 398.0 383.6 394.7 381.0 394.4 380.0 407.0 379.7 412.0 381.6 414.0 381.4 413.9 380.0 410.0 374.0 409.0 371.2 408.0 363.7 409.0 362.8 416.0 361.7 421.0 361.4 422.0 361.7 437.1 372.0 447.3 381.0 454.0 390.0 453.0 398.2 452.0 400.2 451.0 400.5 442.0 399.0 431.0 391.7 422.0 386.9 423.1 389.0 426.0 391.1 427.0 392.5 429.2 402.0 428.1 404.0 422.2 409.0 421.1 415.0 419.7 418.0 395.0 430.7 384.0 438.1 372.2 444.0 362.0 445.7 358.7 445.0 356.6 444.0 356.1 443.0 356.4 442.0 362.9 428.0 369.9 418.0 380.0 411.9 394.0 410.6 397.0 409.7 404.0 409.4 405.7 409.0 406.4 408.0 403.0 405.8 390.0 400.7 377.8 399.0 365.9 393.0 361.0 387.1 355.2 378.0 350.0 377.1 342.0 374.0 336.0 369.3 333.0 366.1 329.9 361.0 329.7 354.0ZM649.5 352.0 652.0 351.3 655.0 351.9 655.6 353.0 655.3 355.0 654.0 356.4 652.0 357.3 649.0 357.6 648.0 357.1 647.4 356.0 647.7 354.0ZM472.2 365.0 475.0 364.3 481.0 364.4 486.0 365.7 490.0 367.8 492.0 369.8 492.5 373.0 491.0 374.9 487.0 376.6 479.0 376.6 475.0 375.4 471.0 373.2 468.5 370.0 468.9 367.0ZM316.0 392.0 321.0 392.0 323.0 394.0 323.5 398.0 321.0 401.1 319.0 401.7 317.0 401.3 315.0 400.2 314.0 399.0 314.0 394.0ZM337.0 432.0 342.0 432.0 344.0 434.0 344.0 436.9 342.1 439.0 340.0 439.7 338.0 439.3 336.0 438.2 335.0 437.0 335.0 434.0ZM513.0 485.0 518.0 484.5 533.0 488.0 545.0 494.0 547.4 498.0 547.1 500.0 536.7 509.0 503.0 515.6 490.0 523.3 480.6 533.0 476.2 542.0 473.0 550.0 468.2 567.0 466.9 569.0 464.0 571.6 462.0 576.0 460.0 577.0 449.0 577.9 438.0 580.4 426.6 585.0 422.5 589.0 419.3 594.0 410.0 603.0 397.0 610.0 387.0 610.8 384.0 612.6 379.0 616.9 377.0 620.0 373.0 631.0 371.4 633.0 365.3 633.0 364.0 632.0 360.0 626.0 358.0 625.4 353.0 626.5 348.0 623.4 347.4 622.0 347.4 618.0 348.9 615.0 359.8 600.0 372.0 588.8 386.8 580.0 404.0 572.5 425.0 560.9 426.9 559.0 430.3 552.0 440.0 546.4 445.0 542.9 452.2 530.0 459.0 522.0 465.5 516.0 469.9 508.0 475.0 501.8 485.0 494.0 500.0 488.0Z"/>
<path fill="#1a7fbd" fill-rule="evenodd" d="M258.4 215.0 262.0 214.5 264.2 216.0 264.9 220.0 264.6 222.0 263.4 224.0 262.0 224.7 259.0 224.4 257.0 223.0 256.5 222.0 256.5 217.0ZM392.7 221.0 395.0 220.4 398.0 220.8 399.7 223.0 399.4 225.0 397.0 226.7 393.0 226.2 391.5 224.0 391.8 222.0ZM384.7 258.0 386.0 257.5 389.0 257.5 391.0 258.7 391.9 262.0 391.2 264.0 390.0 265.3 387.0 265.8 385.0 265.2 384.0 264.3 383.5 263.0 383.5 260.0ZM244.3 270.0 262.0 266.1 264.0 266.7 275.0 273.2 276.0 274.0 277.3 277.0 280.5 290.0 280.8 308.0 282.7 315.0 284.2 325.0 283.4 327.0 277.0 331.5 276.0 331.7 274.8 331.0 270.7 324.0 260.1 302.0 257.1 297.0 251.1 290.0 245.4 285.0 243.3 282.0 243.3 278.0 244.4 274.0 243.9 271.0ZM104.3 282.0 108.0 281.1 111.0 282.6 112.5 286.0 112.0 291.9 110.8 296.0 108.0 301.2 105.0 305.3 102.0 307.3 98.0 307.7 96.0 306.4 94.7 304.0 94.7 297.0 95.8 293.0 98.7 288.0 102.0 283.6ZM318.7 284.0 321.0 283.4 324.0 283.8 325.7 286.0 325.4 288.0 323.0 289.7 319.0 289.2 317.5 287.0 317.8 285.0ZM78.0 311.0 80.0 310.4 85.0 310.8 86.3 312.0 89.3 317.0 89.9 322.0 89.0 325.8 86.0 330.8 84.0 332.2 82.0 332.6 78.9 332.0 75.0 328.2 73.2 325.0 73.5 317.0 75.0 314.3ZM94.6 348.0 98.0 347.4 101.0 348.1 103.6 350.0 105.5 353.0 106.6 357.0 106.3 360.0 104.6 363.0 102.0 365.2 99.0 365.6 96.0 364.8 94.0 363.4 91.8 360.0 90.6 356.0 90.7 353.0 92.4 350.0ZM425.7 375.0 427.0 374.5 429.0 374.8 432.0 377.0 432.5 380.0 431.3 382.0 430.0 382.5 428.0 382.2 425.0 380.0 424.5 377.0ZM391.2 395.0 393.0 394.5 398.0 394.7 401.0 396.5 402.3 399.0 401.0 400.4 395.0 400.2 391.5 398.0 390.7 396.0ZM416.6 397.0 419.0 396.4 422.4 397.0 424.7 400.0 424.4 402.0 423.0 403.5 421.0 404.5 418.0 404.5 416.6 404.0 415.0 402.4 414.5 401.0 414.8 399.0ZM377.0 416.7 385.0 414.2 391.0 414.7 393.1 416.0 394.2 418.0 394.1 419.0 391.0 423.5 386.0 427.3 382.0 429.3 378.0 430.5 374.0 430.6 372.0 430.3 370.0 429.1 368.8 427.0 368.9 426.0 371.4 422.0ZM500.0 490.4 514.0 488.2 522.0 488.2 527.0 490.1 532.0 490.7 538.7 495.0 539.5 496.0 539.3 497.0 532.0 503.2 501.0 508.9 489.0 514.9 486.6 517.0 481.0 524.0 479.0 528.1 474.0 541.7 467.0 566.0 465.9 568.0 463.0 571.0 462.0 574.2 461.0 575.5 459.0 576.2 453.0 576.3 442.0 577.6 438.0 578.6 428.0 582.5 424.0 585.1 420.4 589.0 418.0 592.4 414.0 596.2 400.0 604.3 395.1 605.0 389.0 607.0 383.0 611.4 377.2 617.0 372.0 625.4 370.0 624.6 366.4 621.0 362.7 614.0 360.2 608.0 359.9 606.0 371.0 594.4 386.0 585.6 413.0 574.1 427.0 566.0 433.0 556.6 443.2 549.0 453.0 530.3 461.1 521.0 467.4 516.0 475.1 503.0 485.0 496.2 496.0 491.7Z"/>
<path fill="#0f5a8e" fill-rule="evenodd" d="M252.5 273.0 257.0 272.6 265.0 274.8 267.3 276.0 272.1 281.0 272.4 284.0 271.3 287.0 270.0 288.3 267.0 289.5 261.0 290.9 255.0 289.7 250.0 287.3 245.9 283.0 244.9 281.0 244.9 279.0 247.0 275.0ZM271.9 303.0 274.0 302.9 276.9 305.0 279.0 309.4 280.8 315.0 281.3 323.0 280.4 325.0 279.0 326.1 277.0 326.1 274.2 324.0 271.9 320.0 269.8 314.0 269.6 306.0 270.6 304.0ZM77.1 315.0 79.0 314.2 83.0 314.4 85.2 316.0 86.7 319.0 87.3 322.0 86.6 325.0 85.0 327.4 82.0 329.2 78.0 328.6 76.0 327.1 74.8 325.0 74.7 319.0 75.4 317.0ZM96.7 351.0 99.0 350.6 101.0 350.9 103.1 353.0 103.7 356.0 103.4 358.0 102.8 359.0 101.0 360.2 98.0 360.6 95.0 358.7 94.5 357.0 94.7 353.0ZM380.7 417.0 385.0 416.2 387.0 416.7 388.3 418.0 388.1 420.0 386.0 422.4 383.0 424.2 378.0 425.1 375.3 424.0 374.7 423.0 375.2 421.0 378.0 418.3ZM500.0 491.9 518.0 489.6 523.0 489.9 526.0 492.2 530.0 493.9 530.8 495.0 530.0 496.1 524.0 499.2 510.0 500.6 496.0 504.6 485.0 511.8 481.0 518.1 479.0 522.8 474.3 537.0 467.9 554.0 465.1 565.0 462.0 570.5 460.9 574.0 459.0 575.2 439.0 575.8 436.0 575.6 432.5 574.0 432.0 573.0 432.3 569.0 430.6 566.0 430.6 564.0 431.3 562.0 436.0 559.3 439.8 554.0 444.0 550.6 453.6 531.0 462.3 521.0 469.1 516.0 475.6 504.0 485.0 497.7 497.0 492.8ZM396.0 583.8 406.0 582.2 409.0 582.7 411.8 584.0 413.7 588.0 414.1 591.0 413.2 593.0 404.0 599.8 391.0 603.7 388.0 605.4 382.0 610.1 373.0 619.1 371.6 619.0 369.1 615.0 366.4 612.0 365.9 608.0 366.2 604.0 367.7 601.0 378.0 592.8Z"/>
<path fill="#14229a" fill-rule="evenodd" d="M253.6 276.0 257.0 275.6 265.1 278.0 267.9 280.0 269.0 281.7 269.4 284.0 269.0 286.0 265.6 288.0 261.0 289.1 255.8 288.0 251.0 286.1 248.1 283.0 247.6 280.0 249.0 277.8ZM79.4 316.0 83.0 316.5 85.1 320.0 85.0 324.1 83.8 326.0 82.0 327.2 80.0 327.2 78.0 326.6 76.1 324.0 76.3 319.0 77.4 317.0ZM515.7 491.0 522.0 491.3 523.3 493.0 523.0 495.6 521.0 496.5 512.0 496.6 498.0 500.8 487.0 506.5 484.0 509.5 480.7 514.0 478.5 519.0 473.0 536.2 462.8 559.0 461.3 568.0 459.7 573.0 458.0 574.0 450.0 574.7 438.0 574.1 436.0 573.1 436.0 569.0 432.1 566.0 432.2 563.0 433.4 562.0 438.0 560.8 441.0 555.2 445.3 551.0 447.5 545.0 454.0 532.0 463.0 521.6 468.6 518.0 470.7 516.0 476.5 505.0 485.7 499.0 498.0 494.0 501.0 493.1 505.0 492.9ZM398.3 585.0 408.0 584.6 411.0 586.9 411.2 589.0 410.0 591.3 408.0 593.1 387.8 600.0 379.0 608.4 374.0 612.3 372.0 612.7 368.9 612.0 368.0 610.6 367.7 605.0 368.1 603.0 369.0 601.8 377.6 595.0Z"/>
<path fill="#6a2a5e" fill-rule="evenodd" d="M79.4 320.0 81.0 319.7 82.0 320.4 82.3 322.0 81.6 323.0 80.0 323.3 79.0 322.6 78.7 321.0ZM464.5 522.0 472.0 517.6 473.5 518.0 474.7 520.0 475.0 522.0 469.2 534.0 460.8 546.0 457.8 552.0 456.5 559.0 458.1 568.0 458.0 569.6 454.4 572.0 451.0 573.1 449.4 573.0 445.8 568.0 443.7 563.0 445.7 554.0 448.9 545.0 456.0 531.5ZM433.5 564.0 435.0 563.1 437.0 563.1 438.5 564.0 438.6 565.0 438.0 566.0 436.0 566.4 434.0 565.7ZM369.6 604.0 371.0 603.2 371.9 604.0 371.9 605.0 371.0 605.9 370.0 605.8Z"/>
<path fill="#2b0a4d" fill-rule="evenodd" d="M457.4 536.0 459.6 536.0 460.2 537.0 460.1 538.0 455.8 547.0 451.4 560.0 450.6 561.0 449.0 561.3 448.0 560.6 447.6 559.0 448.8 555.0 451.0 548.6Z"/>
<path d="M655.6 60.4 L654.4 73.8 L655.6 84.9 L650.0 93.8 L634.4 96.0 L628.9 104.9 L624.4 111.6 L623.3 122.7 L622.2 137.1 L616.7 139.3 L612.2 143.8 L605.6 149.3 L605.6 153.8 L612.2 154.9 L616.7 160.4 L623.3 171.6 L628.9 182.7 L630.0 191.6 L634.0 201.0 L640.0 209.0 L647.0 216.5 L658.5 223.5 L668.0 227.0 L676.7 229.2 L690.7 229.2 L709.3 232.7 L728.0 231.5 L746.7 235.0 L760.7 237.3 L777.0 233.8 L784.0 223.3 L798.0 217.5 L812.0 210.5 L821.3 203.5 L834.0 194.0 M578.0 267.0 L594.0 255.0 L611.0 244.0 L633.0 238.0 L642.0 239.7 L653.0 240.8 L665.0 242.0 L674.0 242.0 L677.0 244.0 L691.0 256.0 L700.0 256.0 L714.0 257.0 L718.0 258.3 L700.0 259.5 L691.0 260.7 L677.0 265.3 L665.0 270.0 L677.0 274.7 L679.0 278.2 L665.0 280.5 L649.0 279.3 L630.0 281.8 L614.0 279.6 L599.0 274.0 L586.0 276.0 L576.0 278.0 L564.0 287.0 L553.0 300.0 L550.0 299.4 L561.0 285.6 L572.0 271.7Z" fill="none" stroke="#3a3a3a" stroke-width="0.9"/>
<path d="M86.7 185.6 L89.8 189.0 L90.6 195.3 L83.6 200.0 L77.4 204.6 L78.9 212.4 L83.6 217.9 L99.2 225.0 L114.8 231.2 L130.4 237.4 L138.2 243.6 L149.1 253.0 L161.6 259.2 L174.1 265.5 L177.2 270.2 L186.6 279.5 L192.8 288.9 L195.6 295.1 L193.0 305.0 L191.0 314.0 L181.1 310.7 L174.4 304.0 L171.1 295.1 L169.4 292.0 L164.7 285.8 L155.4 284.2 L146.0 282.6 L138.2 278.0 L133.5 272.5 L127.3 271.7 L121.0 276.0 L116.7 284.0 L110.0 301.8 L104.4 312.9 L105.6 321.8 L114.4 326.2 L127.8 330.7 L134.4 339.6 L133.3 350.7 L135.6 361.8 L123.3 366.2 L113.0 370.0 L106.8 377.8 L106.8 384.0 L108.4 391.8 L105.2 398.0 L97.4 401.2 L92.8 405.9 L88.9 412.0 L88.1 416.8 L85.0 423.0 L66.0 424.0 L66.0 402.0 L73.0 402.0 L75.5 395.7 L78.7 386.0 L73.0 381.4 L77.0 378.0 L83.5 376.7 L90.0 373.5 L91.0 367.0 L88.0 361.0 L85.0 350.0 L82.0 339.0 L73.0 332.0" fill="none" stroke="#555" stroke-width="0.8"/>
<path d="M263.0 321.0 L260.0 316.0 L262.0 310.0 L261.0 307.0 L257.0 299.0 L251.0 294.0 L245.0 291.0 L240.0 286.0 L236.0 281.0 L233.0 276.0 L239.0 271.0 L235.0 262.0 L237.0 246.0 L239.0 235.0 L241.0 224.0 L244.0 216.0 L243.0 207.0 L241.0 198.0 L234.0 189.0 L226.0 180.0 L214.0 169.0 L203.0 160.0 L192.0 152.0 L181.0 143.0 L168.0 133.0 L159.0 127.0 L143.0 118.0 L128.0 107.0 L114.0 94.0 L103.0 89.0 L92.0 87.0 L84.0 88.0 L79.0 85.0 L73.0 75.0 M100.0 97.0 L111.0 95.5 L122.0 98.0 L121.0 103.0 L110.0 104.0 L101.0 101.0Z M98.0 107.0 L110.0 105.5 L136.0 110.0 L131.0 113.5 L112.0 112.0 L99.0 110.5Z M83.5 115.5 L93.5 115.0 L93.0 118.7 L84.0 118.7Z M110.0 120.5 L125.0 119.5 L136.0 122.0 L128.0 125.5 L112.0 125.0Z M141.0 131.5 L152.0 133.0 L161.5 137.0 L157.0 139.5 L144.0 137.0Z M90.0 93.5 L99.0 93.0 L100.0 97.5 L92.0 98.0Z M118.0 133.0 L124.0 132.7 L124.4 136.6 L118.5 136.5Z M128.0 118.0 L140.0 117.0 L156.0 122.0 L156.0 126.0 L142.0 124.0 L130.0 122.0Z" fill="none" stroke="#333" stroke-width="0.9"/>
<path d="M342.2 246.4 L348.4 260.4 L354.6 273.0 L359.3 282.0 L361.0 288.4 L364.0 293.0 L370.0 294.7 L376.4 301.0 L382.6 304.0 L387.3 307.0 L392.0 313.0 L395.0 320.0 M301.8 280.7 L308.0 288.4 L311.0 301.0 L317.0 308.6 L326.7 310.0 L336.0 308.6 L347.0 308.6 L351.5 304.0 L359.3 291.5 M320.4 310.0 L319.0 320.0 L317.0 330.0 L322.0 340.0 L326.0 346.0 L328.0 351.0 M328.0 351.0 L345.0 355.0 L360.0 348.6 L379.0 355.0 L391.0 361.0 L399.0 366.0 M328.0 351.0 L334.0 370.0 L345.0 376.0 L353.0 380.0 L355.4 391.0 L349.0 397.0 M353.0 380.0 L374.0 380.0 L389.0 378.0 L398.0 382.0 L408.0 389.0 L417.0 393.0 L425.0 399.0 L434.0 405.0 M386.0 224.0 L380.0 240.0 L378.0 252.0 L381.0 262.0 M428.0 218.4 L433.0 225.6 L436.0 232.7 L444.0 236.0 L448.4 240.0 L451.0 248.0 L450.0 256.0 M490.0 244.0 L494.0 232.0 L500.0 222.0 M345.0 427.0 L346.5 440.7 L352.6 446.8 L342.0 454.4 L339.0 464.3 L335.9 474.0 M345.0 427.0 L360.2 428.5 L364.8 424.0 L369.4 416.3 L370.9 410.2" fill="none" stroke="#1a1a1a" stroke-width="1.3"/>
<path d="M266.0 321.0 L272.8 316.5 L280.0 310.0 L283.0 303.0 L289.3 294.7 L297.0 287.0 L300.0 279.0 L305.0 273.0 L311.0 266.7 L309.5 257.0 L308.0 249.5 M290.0 189.0 L286.7 212.7 L286.0 220.0 L292.4 237.0 L298.7 248.0 L308.0 249.5 M308.0 249.5 L320.4 249.5 L331.3 248.0 L342.2 246.4 L351.5 237.0 L361.0 232.4 L373.3 234.0 L385.8 232.4 L389.0 224.7 L396.7 222.7 L400.0 221.7 L427.8 216.0 L455.6 207.8 L472.2 210.6 L483.3 218.9 L502.8 227.2 L525.0 224.4 L544.4 221.7 L544.4 202.2 L552.8 199.4 M552.8 199.4 L561.0 202.0 L564.0 221.7 L555.6 230.0 L552.8 244.0 L547.0 252.0 L540.0 257.5 M552.8 199.4 L556.0 194.0 L572.0 180.0 L586.0 176.0 L594.0 177.0 L608.0 186.0 L621.0 183.0 L629.0 184.0 M373.3 160.4 L384.4 169.3 L395.6 180.4 L400.0 193.8 L402.0 200.0 L400.0 212.0 L397.0 222.7 M371.0 57.0 L371.0 60.4 L373.3 76.0 L380.0 89.3 L391.0 98.0 L400.0 109.3 L391.0 122.7 L377.8 129.3 L375.6 140.4 L377.8 151.6 L373.3 160.4 M289.0 191.6 L293.0 187.0 L302.0 176.0 L313.3 169.3 L320.0 173.8 L329.0 165.0 L340.0 165.0 L351.0 160.4 L364.4 160.4 L373.3 160.4 M276.7 126.0 L266.7 146.0 L283.0 156.0 L290.0 176.0 L290.0 189.0 M266.7 146.0 L250.0 142.7 L240.0 166.0 L230.0 182.7 L226.7 189.3 M228.6 87.0 L236.4 95.0 L245.8 104.0 L258.0 112.0 L269.0 118.0 L277.0 124.4 L276.7 126.0 M232.0 57.0 L231.8 60.7 L241.0 74.7 L239.5 82.4 L230.0 85.5 L224.0 85.5 L217.8 87.0 L214.7 85.5 L221.0 96.4 L217.8 102.7 L211.5 98.0 L205.0 102.7 L203.8 109.0 L197.5 116.7 L194.4 126.0 L194.4 136.0 L192.0 142.0 L190.0 145.0 M393.0 57.0 L393.0 61.6 L403.0 67.0 L426.0 70.0 L454.0 77.0 L470.0 73.0 L483.0 76.0 L499.0 77.0 L510.0 79.0 L526.0 76.0 L539.0 61.0 L541.0 57.0 M625.6 57.0 L625.6 61.6 L630.0 70.4 L654.4 72.7 M110.0 57.0 L117.0 69.0 L126.0 78.0 L137.0 87.0 L143.0 94.0 L150.0 100.0 L154.0 112.0 L159.0 120.0 L161.0 127.0 L156.0 127.0 M161.0 127.0 L174.0 132.0 L179.0 143.0 L184.0 146.0" fill="none" stroke="#151515" stroke-width="1.7" stroke-linejoin="round"/>
<path d="M540.0 256.0 L538.9 252.9 L523.0 248.0 L508.0 247.0 L497.0 243.0 L488.0 245.0 L478.0 249.0 L470.0 246.0 L461.0 250.0 L450.0 257.0 L441.0 256.0 L434.0 259.0 L436.0 271.8 L438.5 275.5 L443.3 276.7 L448.2 275.5 L455.6 282.8 L462.9 291.3 L464.0 293.8 L460.5 295.0 L455.6 288.9 L448.2 281.6 L445.8 279.0 L443.3 281.6 L443.3 286.5 L445.8 293.8 L447.0 301.0 L443.3 304.8 L439.7 301.0 L436.0 293.8 L433.6 286.5 L433.6 281.6 L431.0 282.8 L427.5 287.7 L422.6 286.5 L421.3 290.0 L426.2 296.2 L432.3 303.6 L433.6 307.2 L427.5 307.2 L418.9 304.8 L415.2 300.0 L414.0 293.8 L415.2 288.9 L414.0 286.5 L406.7 285.2 L399.3 280.3 L394.4 275.5 L394.4 268.0 L390.8 273.0 L383.0 274.0 L382.0 280.0 L381.0 289.0 L380.0 299.0 L385.0 305.0 L388.0 310.0 L394.0 317.0 L398.0 326.0 L402.0 332.0 L405.5 332.0 L410.0 340.0 L414.0 347.0 L416.5 352.0 L406.0 353.0 L398.0 350.0 L393.0 347.0 L392.0 352.0 L395.0 360.0 L399.0 366.0 L405.0 369.0 L402.0 374.0 L409.0 381.0 L416.0 388.0 L427.0 393.0 L438.0 399.0 L448.0 405.0 L455.0 410.0 L452.0 414.0 L448.0 422.0 L450.0 430.0 L446.0 438.0 L441.0 431.0 L437.0 425.0 L428.0 423.0 L419.0 419.0 L412.0 420.0 L407.0 421.0 L404.0 426.0 L401.0 426.0 L404.0 432.0 L407.0 440.0 L411.0 449.0 L416.0 461.0 L410.0 461.0 L407.0 458.0 L402.0 452.0 L395.0 446.0 L388.0 443.0 L390.0 446.0 L392.0 455.0 L394.0 464.0 L398.0 470.0 L400.0 473.0 L404.0 483.0 L405.0 489.0 L403.0 492.0 L402.0 496.0 L404.0 502.0 L409.0 508.0 L405.0 508.0 L399.0 506.0 L396.0 500.0 L392.0 494.0 L390.0 488.0 L385.0 487.5 L382.0 489.0 L379.0 496.0 L378.0 502.0 L377.0 511.0 L371.0 505.0 L372.0 500.0 L370.0 492.0 L366.0 484.0 L361.5 481.0 L361.0 475.5 L355.0 475.5 L352.0 478.0 L352.0 489.0 L350.0 494.0 L343.0 492.0 L340.0 487.0 L339.0 481.0 L335.0 475.0 L335.0 466.0 L339.0 458.0 L340.0 449.0 L333.0 442.0 L325.0 439.0 L322.0 430.0 L314.0 427.0 L314.0 423.0 L326.0 407.0 L336.0 404.0 L348.0 403.0 L361.0 407.0 L372.0 412.0 L387.0 417.0 L398.0 423.0 L404.0 422.0 L403.0 416.0 L395.0 410.0 L383.0 404.0 L370.0 398.0 L357.0 396.0 L345.0 396.0 L330.0 398.0 L316.0 399.0 L314.0 401.0 L312.0 394.0 L301.0 388.0 L292.0 381.0 L299.0 370.0 L296.0 360.5 L290.0 354.0 L285.0 348.0 L281.0 343.0 L277.0 339.0 L273.0 334.0 L272.0 328.0 L269.0 324.0 L263.0 321.0 M399.0 366.0 L404.0 360.0 L415.0 359.0 L419.0 366.5 L429.0 375.0 L438.5 378.7 L449.5 379.9 L453.0 385.0 L455.6 393.3 L459.0 404.0 L463.0 410.5 L470.0 409.0 L473.0 413.0 L469.0 422.0 L458.0 413.0 L451.0 407.0 L442.0 402.0 L431.0 396.0 L421.0 388.0 L413.0 378.0 L405.0 372.0Z M248.3 315.2 L254.4 313.4 L260.6 316.5 L259.3 321.3 L259.3 327.5 L263.0 332.3 L269.1 338.5 L266.7 340.3 L259.3 336.0 L254.4 329.9 L250.8 322.6Z M289.0 371.0 L296.0 370.0 L300.0 377.0 L298.0 385.0 L292.0 384.0 L289.0 378.0Z M283.0 395.0 L292.0 392.0 L300.0 398.0 L297.0 406.0 L292.0 414.0 L285.0 417.0 L279.0 412.0 L281.0 403.0Z M297.0 388.0 L301.0 389.0 L300.0 396.0 L297.0 395.0Z M293.0 424.0 L300.0 423.0 L307.0 431.0 L306.0 438.0 L299.0 437.0 L294.0 431.0Z M396.0 513.0 L398.0 512.0 L402.0 517.0 L405.5 519.5 L403.0 522.0 L402.0 525.5 L398.0 524.5 L396.0 521.0Z M471.0 254.0 L477.0 253.0 L481.0 258.0 L480.0 265.0 L474.0 268.0 L470.0 263.0Z M512.0 273.0 L518.0 271.0 L523.0 274.0 L520.0 278.0 L514.0 278.0Z M494.0 302.0 L500.0 300.0 L505.0 304.0 L510.0 301.0 L513.0 305.0 L509.0 311.0 L505.0 315.0 L501.0 312.0 L496.0 313.0 L493.0 308.0Z M530.7 345.3 L537.3 344.0 L545.3 340.0 L553.3 340.0 L557.3 344.0 L560.0 352.0 L564.7 358.7 L560.0 362.7 L550.7 362.7 L544.0 358.7 L536.0 353.3 L530.7 350.7Z M530.7 385.3 L540.0 384.7 L544.0 389.3 L542.7 397.3 L541.3 405.3 L537.3 410.7 L532.0 405.3 L533.3 397.3 L529.3 389.3Z M563.4 434.0 L571.2 431.0 L580.6 431.7 L586.0 434.0 L582.1 437.2 L574.3 439.5 L566.5 438.0Z M537.0 442.0 L546.0 438.0 L553.0 437.5 L551.0 441.0 L543.0 445.0 L537.0 446.0Z M463.0 363.0 L468.0 362.0 L473.0 367.0 L478.0 371.0 L476.0 376.0 L470.0 374.0 L465.0 370.0Z M419.0 350.0 L423.0 349.5 L424.0 353.0 L420.0 353.0Z M428.0 350.0 L432.0 349.0 L437.0 353.0 L434.0 357.0 L430.0 355.0Z M439.0 348.0 L444.0 344.4 L446.0 346.0 L441.0 351.8Z M477.3 421.3 L482.7 419.3 L488.0 426.7 L490.7 434.7 L486.7 436.0 L482.7 430.7 L478.7 426.7Z M491.0 438.0 L497.0 439.3 L502.7 441.3 L502.0 446.0 L497.0 444.7 L491.7 441.3Z M459.0 440.0 L463.0 437.0 L465.0 440.0 L462.0 446.0 L459.0 445.0Z M463.0 450.0 L466.0 449.0 L468.0 455.0 L465.0 459.0 L463.0 455.0Z M485.0 448.0 L489.0 447.3 L490.7 453.0 L487.0 455.3 L485.0 452.0Z M500.0 452.0 L506.0 448.0 L513.0 450.5 L508.0 454.0 L502.0 455.0Z M465.0 466.0 L470.0 464.7 L472.0 467.0 L469.0 470.0 L466.0 470.0Z M475.0 474.0 L478.0 475.0 L481.0 480.0 L478.0 482.0 L476.0 479.0Z M490.0 478.0 L496.0 471.0 L503.0 468.0 L505.0 472.0 L500.0 478.0 L493.0 480.0Z M508.0 468.0 L515.0 465.3 L519.0 470.0 L518.0 478.0 L513.0 481.0 L508.0 476.0Z M460.0 493.0 L465.0 487.0 L470.0 485.3 L474.0 489.0 L470.0 494.0 L463.0 496.0Z M579.0 490.2 L586.8 484.7 L596.2 482.4 L598.5 484.0 L591.5 487.0 L583.7 490.2 L581.3 494.1Z M638.3 508.1 L633.6 512.0 L627.4 516.7 L619.6 521.4 L614.9 526.1 L616.4 532.3 L617.0 540.0 L621.0 538.0 L626.0 531.0 L632.0 523.0 L637.0 515.0Z M588.0 541.0 L592.0 540.0 L593.0 548.0 L591.0 556.0 L589.0 566.0 L585.0 566.0 L586.0 556.0 L587.0 548.0Z M424.4 562.2 L425.6 553.3 L428.9 554.4 L433.3 551.1 L435.6 558.9 L444.4 558.9 L453.3 558.9 L457.8 564.4 L460.0 568.9 L471.1 567.8 L484.4 566.2 L493.3 564.4 L497.8 568.9 L511.1 571.1 L524.4 571.1 L528.9 575.6 L533.3 577.8 L542.2 575.6 L548.9 573.3 L551.1 577.8 L548.9 584.4 L542.2 586.7 L528.9 587.8 L515.6 588.9 L506.7 591.1 L493.3 591.1 L480.0 593.3 L480.0 586.7 L471.1 584.4 L460.0 580.0 L444.4 577.8 L433.3 576.7 L424.4 575.6Z M508.3 492.8 L508.1 494.2 L506.7 495.6 L504.7 496.3 L502.8 496.2 L501.7 495.2 L501.9 493.8 L503.3 492.4 L505.3 491.7 L507.2 491.8Z M511.3 510.9 L510.3 512.5 L508.7 513.1 L507.2 512.6 L506.5 511.1 L506.7 509.1 L507.7 507.5 L509.3 506.9 L510.8 507.4 L511.5 508.9Z M537.0 483.7 L536.4 485.0 L534.2 486.7 L531.1 488.1 L528.4 488.7 L527.0 488.3 L527.6 487.0 L529.8 485.3 L532.9 483.9 L535.6 483.3Z M530.2 513.0 L529.8 513.9 L528.7 514.4 L527.3 514.4 L526.2 513.9 L525.8 513.0 L526.2 512.1 L527.3 511.6 L528.7 511.6 L529.8 512.1Z M489.3 497.1 L489.1 498.0 L488.1 498.8 L486.7 499.3 L485.3 499.4 L484.7 498.9 L484.9 498.0 L485.9 497.2 L487.3 496.7 L488.7 496.6Z M498.0 495.5 L497.6 496.2 L496.6 496.6 L495.4 496.6 L494.4 496.2 L494.0 495.5 L494.4 494.8 L495.4 494.4 L496.6 494.4 L497.6 494.8Z M529.8 473.0 L529.5 473.8 L528.6 474.2 L527.4 474.2 L526.5 473.8 L526.2 473.0 L526.5 472.2 L527.4 471.8 L528.6 471.8 L529.5 472.2Z M556.9 501.7 L556.0 502.8 L553.9 503.3 L551.4 502.8 L549.6 501.7 L549.1 500.3 L550.0 499.2 L552.1 498.7 L554.6 499.2 L556.4 500.3Z M563.6 461.0 L563.3 462.5 L562.5 463.5 L561.5 463.5 L560.7 462.5 L560.4 461.0 L560.7 459.5 L561.5 458.5 L562.5 458.5 L563.3 459.5Z M577.2 471.2 L576.3 472.6 L575.1 473.3 L574.1 472.9 L573.6 471.6 L573.8 470.0 L574.7 468.6 L575.9 467.9 L576.9 468.3 L577.4 469.6Z M582.6 480.5 L581.4 481.5 L579.6 481.5 L578.0 480.6 L577.2 479.1 L577.4 477.5 L578.6 476.5 L580.4 476.5 L582.0 477.4 L582.8 478.9Z M592.0 500.0 L591.6 501.2 L590.6 501.9 L589.4 501.9 L588.4 501.2 L588.0 500.0 L588.4 498.8 L589.4 498.1 L590.6 498.1 L591.6 498.8Z M601.7 506.8 L601.7 507.7 L600.9 508.8 L599.6 509.5 L598.3 509.7 L597.5 509.2 L597.5 508.3 L598.3 507.2 L599.6 506.5 L600.9 506.3Z M623.2 500.0 L622.8 501.3 L621.7 502.1 L620.3 502.1 L619.2 501.3 L618.8 500.0 L619.2 498.7 L620.3 497.9 L621.7 497.9 L622.8 498.7Z M611.8 520.0 L611.4 520.7 L610.3 521.1 L608.9 521.1 L607.8 520.7 L607.4 520.0 L607.8 519.3 L608.9 518.9 L610.3 518.9 L611.4 519.3Z M560.0 446.0 L559.6 446.9 L558.6 447.4 L557.4 447.4 L556.4 446.9 L556.0 446.0 L556.4 445.1 L557.4 444.6 L558.6 444.6 L559.6 445.1Z M582.6 570.0 L582.1 570.8 L580.8 571.3 L579.2 571.3 L577.9 570.8 L577.4 570.0 L577.9 569.2 L579.2 568.7 L580.8 568.7 L582.1 569.2Z M519.0 387.0 L518.6 387.9 L517.6 388.5 L516.4 388.5 L515.4 387.9 L515.0 387.0 L515.4 386.1 L516.4 385.5 L517.6 385.5 L518.6 386.1Z M492.0 331.0 L491.6 331.9 L490.6 332.5 L489.4 332.5 L488.4 331.9 L488.0 331.0 L488.4 330.1 L489.4 329.5 L490.6 329.5 L491.6 330.1Z M425.4 437.0 L424.9 438.3 L423.6 439.1 L422.0 439.1 L420.7 438.3 L420.2 437.0 L420.7 435.7 L422.0 434.9 L423.6 434.9 L424.9 435.7Z M424.9 424.7 L424.3 426.1 L422.8 427.0 L421.0 427.0 L419.5 426.1 L418.9 424.7 L419.5 423.3 L421.0 422.4 L422.8 422.4 L424.3 423.3Z M423.9 459.7 L423.4 460.5 L421.8 461.4 L419.8 462.0 L417.9 462.0 L417.1 461.5 L417.6 460.7 L419.2 459.8 L421.2 459.2 L423.1 459.2Z M422.3 452.0 L422.0 452.8 L421.1 453.2 L419.9 453.2 L419.0 452.8 L418.7 452.0 L419.0 451.2 L419.9 450.8 L421.1 450.8 L422.0 451.2Z M408.6 465.0 L408.3 465.7 L407.4 466.1 L406.2 466.1 L405.3 465.7 L405.0 465.0 L405.3 464.3 L406.2 463.9 L407.4 463.9 L408.3 464.3Z M519.6 483.0 L519.3 483.7 L518.5 484.1 L517.5 484.1 L516.7 483.7 L516.4 483.0 L516.7 482.3 L517.5 481.9 L518.5 481.9 L519.3 482.3Z M472.5 489.0 L472.2 489.7 L471.5 490.1 L470.5 490.1 L469.8 489.7 L469.5 489.0 L469.8 488.3 L470.5 487.9 L471.5 487.9 L472.2 488.3Z M492.2 478.0 L492.0 479.2 L491.4 479.9 L490.6 479.9 L490.0 479.2 L489.8 478.0 L490.0 476.8 L490.6 476.1 L491.4 476.1 L492.0 476.8Z M490.6 617.0 L490.1 617.9 L488.8 618.5 L487.2 618.5 L485.9 617.9 L485.4 617.0 L485.9 616.1 L487.2 615.5 L488.8 615.5 L490.1 616.1Z M498.8 562.0 L498.5 562.7 L497.6 563.1 L496.4 563.1 L495.5 562.7 L495.2 562.0 L495.5 561.3 L496.4 560.9 L497.6 560.9 L498.5 561.3Z M396.6 511.0 L396.3 511.8 L395.5 512.2 L394.5 512.2 L393.7 511.8 L393.4 511.0 L393.7 510.2 L394.5 509.8 L395.5 509.8 L396.3 510.2Z M561.3 390.0 L561.1 390.8 L560.4 391.2 L559.6 391.2 L558.9 390.8 L558.7 390.0 L558.9 389.2 L559.6 388.8 L560.4 388.8 L561.1 389.2Z M547.8 387.0 L547.5 387.6 L546.6 388.0 L545.4 388.0 L544.5 387.6 L544.2 387.0 L544.5 386.4 L545.4 386.0 L546.6 386.0 L547.5 386.4Z M581.6 450.0 L581.3 450.6 L580.5 451.0 L579.5 451.0 L578.7 450.6 L578.4 450.0 L578.7 449.4 L579.5 449.0 L580.5 449.0 L581.3 449.4Z M571.6 457.0 L571.3 457.7 L570.5 458.1 L569.5 458.1 L568.7 457.7 L568.4 457.0 L568.7 456.3 L569.5 455.9 L570.5 455.9 L571.3 456.3Z M567.3 455.0 L567.1 455.6 L566.4 456.0 L565.6 456.0 L564.9 455.6 L564.7 455.0 L564.9 454.4 L565.6 454.0 L566.4 454.0 L567.1 454.4Z M586.3 483.0 L586.1 483.6 L585.4 484.0 L584.6 484.0 L583.9 483.6 L583.7 483.0 L583.9 482.4 L584.6 482.0 L585.4 482.0 L586.1 482.4Z" fill="none" stroke="#111" stroke-width="1.5" stroke-linejoin="round"/>
</g>
<rect x="72.5" y="57" width="760.3" height="641.9" fill="none" stroke="#222" stroke-width="1.3"/>
<line x1="54" y1="56.6" x2="72.5" y2="56.6" stroke="#222" stroke-width="1.3"/>
<text x="44" y="62.4" font-size="15.5" text-anchor="end" fill="#111">44°N</text>
<line x1="54" y1="181.0" x2="72.5" y2="181.0" stroke="#222" stroke-width="1.3"/>
<text x="44" y="186.8" font-size="15.5" text-anchor="end" fill="#111">42°N</text>
<line x1="54" y1="301.6" x2="72.5" y2="301.6" stroke="#222" stroke-width="1.3"/>
<text x="44" y="307.4" font-size="15.5" text-anchor="end" fill="#111">40°N</text>
<line x1="54" y1="418.8" x2="72.5" y2="418.8" stroke="#222" stroke-width="1.3"/>
<text x="44" y="424.6" font-size="15.5" text-anchor="end" fill="#111">38°N</text>
<line x1="54" y1="532.7" x2="72.5" y2="532.7" stroke="#222" stroke-width="1.3"/>
<text x="44" y="538.5" font-size="15.5" text-anchor="end" fill="#111">36°N</text>
<line x1="54" y1="643.8" x2="72.5" y2="643.8" stroke="#222" stroke-width="1.3"/>
<text x="44" y="649.6" font-size="15.5" text-anchor="end" fill="#111">34°N</text>
<line x1="263.3" y1="698.9" x2="263.3" y2="717" stroke="#222" stroke-width="1.3"/>
<text x="263.3" y="739.8" font-size="15.5" text-anchor="middle" fill="#111">20°E</text>
<line x1="354.4" y1="698.9" x2="354.4" y2="717" stroke="#222" stroke-width="1.3"/>
<text x="354.4" y="739.8" font-size="15.5" text-anchor="middle" fill="#111">22°E</text>
<line x1="445.6" y1="698.9" x2="445.6" y2="717" stroke="#222" stroke-width="1.3"/>
<text x="445.6" y="739.8" font-size="15.5" text-anchor="middle" fill="#111">24°E</text>
<line x1="536.7" y1="698.9" x2="536.7" y2="717" stroke="#222" stroke-width="1.3"/>
<text x="536.7" y="739.8" font-size="15.5" text-anchor="middle" fill="#111">26°E</text>
<line x1="627.9" y1="698.9" x2="627.9" y2="717" stroke="#222" stroke-width="1.3"/>
<text x="627.9" y="739.8" font-size="15.5" text-anchor="middle" fill="#111">28°E</text>
<line x1="719.0" y1="698.9" x2="719.0" y2="717" stroke="#222" stroke-width="1.3"/>
<text x="719.0" y="739.8" font-size="15.5" text-anchor="middle" fill="#111">30°E</text>
<line x1="810.1" y1="698.9" x2="810.1" y2="717" stroke="#222" stroke-width="1.3"/>
<text x="810.1" y="739.8" font-size="15.5" text-anchor="middle" fill="#111">32°E</text>
<rect x="845.3" y="50.50" width="22.0" height="50.15" fill="#2b0a4d"/>
<rect x="845.3" y="100.35" width="22.0" height="50.15" fill="#6a2a5e"/>
<rect x="845.3" y="150.19" width="22.0" height="50.15" fill="#14229a"/>
<rect x="845.3" y="200.04" width="22.0" height="50.15" fill="#0f5a8e"/>
<rect x="845.3" y="249.88" width="22.0" height="50.15" fill="#1a7fbd"/>
<rect x="845.3" y="299.73" width="22.0" height="50.15" fill="#3a9fc0"/>
<rect x="845.3" y="349.58" width="22.0" height="50.15" fill="#35a592"/>
<rect x="845.3" y="399.42" width="22.0" height="50.15" fill="#4eb89b"/>
<rect x="845.3" y="449.27" width="22.0" height="50.15" fill="#90e3b5"/>
<rect x="845.3" y="499.12" width="22.0" height="50.15" fill="#c7f6d1"/>
<rect x="845.3" y="548.96" width="22.0" height="50.15" fill="#eaf7c1"/>
<rect x="845.3" y="598.81" width="22.0" height="50.15" fill="#eaf7c1"/>
<rect x="845.3" y="648.65" width="22.0" height="50.15" fill="#ffffff"/>
<line x1="845.3" x2="867.3" y1="100.35" y2="100.35" stroke="#444" stroke-width="0.6" opacity="0.6"/>
<line x1="845.3" x2="867.3" y1="150.19" y2="150.19" stroke="#444" stroke-width="0.6" opacity="0.6"/>
<line x1="845.3" x2="867.3" y1="200.04" y2="200.04" stroke="#444" stroke-width="0.6" opacity="0.6"/>
<line x1="845.3" x2="867.3" y1="249.88" y2="249.88" stroke="#444" stroke-width="0.6" opacity="0.6"/>
<line x1="845.3" x2="867.3" y1="299.73" y2="299.73" stroke="#444" stroke-width="0.6" opacity="0.6"/>
<line x1="845.3" x2="867.3" y1="349.58" y2="349.58" stroke="#444" stroke-width="0.6" opacity="0.6"/>
<line x1="845.3" x2="867.3" y1="399.42" y2="399.42" stroke="#444" stroke-width="0.6" opacity="0.6"/>
<line x1="845.3" x2="867.3" y1="449.27" y2="449.27" stroke="#444" stroke-width="0.6" opacity="0.6"/>
<line x1="845.3" x2="867.3" y1="499.12" y2="499.12" stroke="#444" stroke-width="0.6" opacity="0.6"/>
<line x1="845.3" x2="867.3" y1="548.96" y2="548.96" stroke="#444" stroke-width="0.6" opacity="0.6"/>
<line x1="845.3" x2="867.3" y1="598.81" y2="598.81" stroke="#444" stroke-width="0.6" opacity="0.6"/>
<line x1="845.3" x2="867.3" y1="648.65" y2="648.65" stroke="#444" stroke-width="0.6" opacity="0.6"/>
<rect x="845.3" y="50.5" width="22.0" height="648.0" fill="none" stroke="#555" stroke-width="0.6"/>
<text x="870.3" y="114.6" font-size="18.7" fill="#111">50</text>
<text x="870.3" y="164.5" font-size="18.7" fill="#111">30</text>
<text x="870.3" y="214.3" font-size="18.7" fill="#111">20</text>
<text x="870.3" y="264.2" font-size="18.7" fill="#111">15</text>
<text x="870.3" y="314.0" font-size="18.7" fill="#111">10</text>
<text x="870.3" y="363.9" font-size="18.7" fill="#111">5</text>
<text x="870.3" y="413.7" font-size="18.7" fill="#111">4</text>
<text x="870.3" y="463.6" font-size="18.7" fill="#111">3</text>
<text x="870.3" y="513.4" font-size="18.7" fill="#111">2</text>
<text x="870.3" y="563.3" font-size="18.7" fill="#111">1</text>
<text x="870.3" y="613.1" font-size="18.7" fill="#111">0.5</text>
<text x="870.3" y="663.0" font-size="18.7" fill="#111">0.1</text>
<rect x="68" y="4.5" width="766.5" height="55" rx="8.5" ry="8.5" fill="url(#tg)" stroke="#0a0a0a" stroke-width="2.2"/>
<text x="232" y="30.7" font-size="17.3" font-weight="bold" fill="#1e437c" textLength="437.3" lengthAdjust="spacingAndGlyphs">Εκτιμώμενα ύψη αθροιστικής βροχόπτωσης 3ωρου</text>
<text x="284" y="51.1" font-size="17.3" font-weight="bold" fill="#1e437c" textLength="163" lengthAdjust="spacingAndGlyphs">για την Παρασκευή</text>
<text x="455.5" y="51.1" font-size="17.3" font-weight="bold" fill="#1e437c" textLength="165" lengthAdjust="spacingAndGlyphs">10/05 12:00-15:00</text>
<rect x="0" y="696" width="189.6" height="60" fill="#fff"/>
<path d="M53 711 L71 711 L87 725 L103 711 L122 711 L122 747 L104 747 L104 736 Q96 741 90 745 Q87 747 84 745 L71 736 L71 747 L53 747 Z" fill="#1321c4"/>
<circle cx="52.5" cy="710.5" r="11.5" fill="#f7c600"/>
<text x="131" y="723.6" font-size="16" fill="#2b30c0" textLength="53" lengthAdjust="spacingAndGlyphs">Meteo</text>
<text x="131" y="738.2" font-size="9.5" fill="#2b30c0" textLength="36" lengthAdjust="spacingAndGlyphs">Όλα για</text>
<text x="131" y="746.7" font-size="9.5" fill="#2b30c0" textLength="45" lengthAdjust="spacingAndGlyphs">τον καιρό</text>
</svg></body></html>
